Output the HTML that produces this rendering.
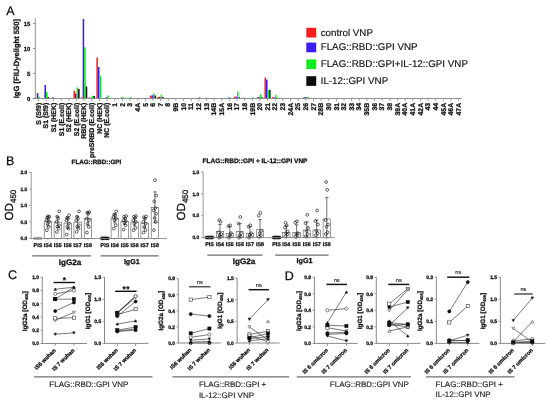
<!DOCTYPE html>
<html lang="en"><head><meta charset="utf-8"><title>Figure</title>
<style>html,body{margin:0;padding:0;background:#fff;}body{width:550px;height:403px;overflow:hidden;}svg{display:block;font-family:"Liberation Sans",sans-serif;text-rendering:geometricPrecision;}.b{font-weight:bold;stroke:#111;stroke-width:.28px;stroke-linejoin:round}</style></head><body>
<svg width="550" height="403" viewBox="0 0 550 403">
<rect width="550" height="403" fill="#fff"/>
<defs><filter id="soft" x="0" y="0" width="550" height="403" filterUnits="userSpaceOnUse"><feGaussianBlur stdDeviation="0.35"/></filter></defs>
<g filter="url(#soft)">
<text x="6.2" y="15.2" font-size="12.5" text-anchor="start" fill="#111" stroke="#111" stroke-width="0.25">A</text>
<text x="6" y="165" font-size="12.5" text-anchor="start" fill="#111" stroke="#111" stroke-width="0.25">B</text>
<text x="8" y="279.3" font-size="12.5" text-anchor="start" fill="#111" stroke="#111" stroke-width="0.25">C</text>
<text x="284.8" y="279.6" font-size="12.5" text-anchor="start" fill="#111" stroke="#111" stroke-width="0.25">D</text>
<g id="panelA">
<rect x="35.25" y="98.25" width="1.55" height="0.25" fill="#ff2020"/>
<rect x="36.8" y="93.1" width="1.55" height="5.4" fill="#3a1aff"/>
<rect x="38.35" y="96.75" width="1.55" height="1.75" fill="#10ee20"/>
<rect x="39.9" y="98.2" width="1.55" height="0.3" fill="#151515"/>
<rect x="42.89" y="98.2" width="1.55" height="0.3" fill="#ff2020"/>
<rect x="44.44" y="85" width="1.55" height="13.5" fill="#3a1aff"/>
<rect x="45.99" y="92" width="1.55" height="6.5" fill="#10ee20"/>
<rect x="47.54" y="97" width="1.55" height="1.5" fill="#151515"/>
<rect x="50.53" y="98.35" width="1.55" height="0.15" fill="#ff2020"/>
<rect x="52.08" y="97.25" width="1.55" height="1.25" fill="#3a1aff"/>
<rect x="53.63" y="98.2" width="1.55" height="0.3" fill="#10ee20"/>
<rect x="59.72" y="98.35" width="1.55" height="0.15" fill="#3a1aff"/>
<rect x="61.27" y="98.35" width="1.55" height="0.15" fill="#10ee20"/>
<rect x="67.36" y="98.35" width="1.55" height="0.15" fill="#3a1aff"/>
<rect x="68.91" y="98.3" width="1.55" height="0.2" fill="#10ee20"/>
<rect x="73.45" y="90.75" width="1.55" height="7.75" fill="#ff2020"/>
<rect x="75" y="93.5" width="1.55" height="5" fill="#3a1aff"/>
<rect x="76.55" y="87.5" width="1.55" height="11" fill="#10ee20"/>
<rect x="78.1" y="89" width="1.55" height="9.5" fill="#151515"/>
<rect x="81.09" y="97.5" width="1.55" height="1" fill="#ff2020"/>
<rect x="82.64" y="19" width="1.55" height="79.5" fill="#3a1aff"/>
<rect x="84.19" y="47.25" width="1.55" height="51.25" fill="#10ee20"/>
<rect x="85.74" y="86.5" width="1.55" height="12" fill="#151515"/>
<rect x="88.73" y="97.5" width="1.55" height="1" fill="#ff2020"/>
<rect x="90.28" y="97.7" width="1.55" height="0.8" fill="#3a1aff"/>
<rect x="91.83" y="95.75" width="1.55" height="2.75" fill="#10ee20"/>
<rect x="93.38" y="96" width="1.55" height="2.5" fill="#151515"/>
<rect x="96.37" y="57.5" width="1.55" height="41" fill="#ff2020"/>
<rect x="97.92" y="67" width="1.55" height="31.5" fill="#3a1aff"/>
<rect x="99.47" y="76" width="1.55" height="22.5" fill="#10ee20"/>
<rect x="101.02" y="98.1" width="1.55" height="0.4" fill="#151515"/>
<rect x="104.01" y="98" width="1.55" height="0.5" fill="#ff2020"/>
<rect x="105.56" y="97.25" width="1.55" height="1.25" fill="#3a1aff"/>
<rect x="107.11" y="95.5" width="1.55" height="3" fill="#10ee20"/>
<rect x="108.66" y="98.25" width="1.55" height="0.25" fill="#151515"/>
<rect x="113.2" y="98.35" width="1.55" height="0.15" fill="#3a1aff"/>
<rect x="114.75" y="98.3" width="1.55" height="0.2" fill="#10ee20"/>
<rect x="119.29" y="98" width="1.55" height="0.5" fill="#ff2020"/>
<rect x="120.84" y="97.5" width="1.55" height="1" fill="#3a1aff"/>
<rect x="122.39" y="96.85" width="1.55" height="1.65" fill="#10ee20"/>
<rect x="123.94" y="98.2" width="1.55" height="0.3" fill="#151515"/>
<rect x="126.93" y="98" width="1.55" height="0.5" fill="#ff2020"/>
<rect x="128.48" y="98" width="1.55" height="0.5" fill="#3a1aff"/>
<rect x="130.03" y="97" width="1.55" height="1.5" fill="#10ee20"/>
<rect x="131.58" y="98.25" width="1.55" height="0.25" fill="#151515"/>
<rect x="136.12" y="98.35" width="1.55" height="0.15" fill="#3a1aff"/>
<rect x="137.67" y="98.3" width="1.55" height="0.2" fill="#10ee20"/>
<rect x="145.31" y="98.3" width="1.55" height="0.2" fill="#10ee20"/>
<rect x="149.85" y="95.6" width="1.55" height="2.9" fill="#ff2020"/>
<rect x="151.4" y="95.3" width="1.55" height="3.2" fill="#3a1aff"/>
<rect x="152.95" y="93.3" width="1.55" height="5.2" fill="#10ee20"/>
<rect x="154.5" y="95.5" width="1.55" height="3" fill="#151515"/>
<rect x="157.49" y="97" width="1.55" height="1.5" fill="#ff2020"/>
<rect x="159.04" y="96.8" width="1.55" height="1.7" fill="#3a1aff"/>
<rect x="160.59" y="94.5" width="1.55" height="4" fill="#10ee20"/>
<rect x="162.14" y="97" width="1.55" height="1.5" fill="#151515"/>
<rect x="165.13" y="98.35" width="1.55" height="0.15" fill="#ff2020"/>
<rect x="166.68" y="97.9" width="1.55" height="0.6" fill="#3a1aff"/>
<rect x="168.23" y="98.2" width="1.55" height="0.3" fill="#10ee20"/>
<rect x="174.32" y="98.35" width="1.55" height="0.15" fill="#3a1aff"/>
<rect x="175.87" y="98.2" width="1.55" height="0.3" fill="#10ee20"/>
<rect x="181.96" y="98.35" width="1.55" height="0.15" fill="#3a1aff"/>
<rect x="183.51" y="98.2" width="1.55" height="0.3" fill="#10ee20"/>
<rect x="189.6" y="98.35" width="1.55" height="0.15" fill="#3a1aff"/>
<rect x="191.15" y="98.2" width="1.55" height="0.3" fill="#10ee20"/>
<rect x="195.69" y="97.9" width="1.55" height="0.6" fill="#ff2020"/>
<rect x="197.24" y="98" width="1.55" height="0.5" fill="#3a1aff"/>
<rect x="198.79" y="96.9" width="1.55" height="1.6" fill="#10ee20"/>
<rect x="200.34" y="98.3" width="1.55" height="0.2" fill="#151515"/>
<rect x="204.88" y="98.35" width="1.55" height="0.15" fill="#3a1aff"/>
<rect x="206.43" y="98.2" width="1.55" height="0.3" fill="#10ee20"/>
<rect x="212.52" y="98.35" width="1.55" height="0.15" fill="#3a1aff"/>
<rect x="214.07" y="98.2" width="1.55" height="0.3" fill="#10ee20"/>
<rect x="218.61" y="98" width="1.55" height="0.5" fill="#ff2020"/>
<rect x="220.16" y="98" width="1.55" height="0.5" fill="#3a1aff"/>
<rect x="221.71" y="98" width="1.55" height="0.5" fill="#10ee20"/>
<rect x="223.26" y="98.35" width="1.55" height="0.15" fill="#151515"/>
<rect x="226.25" y="98" width="1.55" height="0.5" fill="#ff2020"/>
<rect x="227.8" y="97.5" width="1.55" height="1" fill="#3a1aff"/>
<rect x="229.35" y="97.3" width="1.55" height="1.2" fill="#10ee20"/>
<rect x="230.9" y="98.3" width="1.55" height="0.2" fill="#151515"/>
<rect x="233.89" y="96.6" width="1.55" height="1.9" fill="#ff2020"/>
<rect x="235.44" y="96.8" width="1.55" height="1.7" fill="#3a1aff"/>
<rect x="236.99" y="91.5" width="1.55" height="7" fill="#10ee20"/>
<rect x="238.54" y="97.25" width="1.55" height="1.25" fill="#151515"/>
<rect x="241.53" y="98.3" width="1.55" height="0.2" fill="#ff2020"/>
<rect x="243.08" y="97.75" width="1.55" height="0.75" fill="#3a1aff"/>
<rect x="244.63" y="98.1" width="1.55" height="0.4" fill="#10ee20"/>
<rect x="249.17" y="98.3" width="1.55" height="0.2" fill="#ff2020"/>
<rect x="250.72" y="98.1" width="1.55" height="0.4" fill="#3a1aff"/>
<rect x="252.27" y="97.5" width="1.55" height="1" fill="#10ee20"/>
<rect x="256.81" y="97.25" width="1.55" height="1.25" fill="#ff2020"/>
<rect x="258.36" y="96.9" width="1.55" height="1.6" fill="#3a1aff"/>
<rect x="259.91" y="94.3" width="1.55" height="4.2" fill="#10ee20"/>
<rect x="261.46" y="97.4" width="1.55" height="1.1" fill="#151515"/>
<rect x="264.45" y="77.5" width="1.55" height="21" fill="#ff2020"/>
<rect x="266" y="79.5" width="1.55" height="19" fill="#3a1aff"/>
<rect x="267.55" y="89.9" width="1.55" height="8.6" fill="#10ee20"/>
<rect x="269.1" y="89.9" width="1.55" height="8.6" fill="#151515"/>
<rect x="272.09" y="97.1" width="1.55" height="1.4" fill="#ff2020"/>
<rect x="273.64" y="97.4" width="1.55" height="1.1" fill="#3a1aff"/>
<rect x="275.19" y="95.1" width="1.55" height="3.4" fill="#10ee20"/>
<rect x="276.74" y="97.9" width="1.55" height="0.6" fill="#151515"/>
<rect x="279.73" y="98.35" width="1.55" height="0.15" fill="#ff2020"/>
<rect x="281.28" y="97.9" width="1.55" height="0.6" fill="#3a1aff"/>
<rect x="282.83" y="98.2" width="1.55" height="0.3" fill="#10ee20"/>
<rect x="288.92" y="98.35" width="1.55" height="0.15" fill="#3a1aff"/>
<rect x="290.47" y="98.2" width="1.55" height="0.3" fill="#10ee20"/>
<rect x="296.56" y="98.35" width="1.55" height="0.15" fill="#3a1aff"/>
<rect x="298.11" y="98.2" width="1.55" height="0.3" fill="#10ee20"/>
<rect x="302.65" y="97.5" width="1.55" height="1" fill="#ff2020"/>
<rect x="304.2" y="97" width="1.55" height="1.5" fill="#3a1aff"/>
<rect x="305.75" y="96.9" width="1.55" height="1.6" fill="#10ee20"/>
<rect x="307.3" y="97.5" width="1.55" height="1" fill="#151515"/>
<rect x="311.84" y="98.35" width="1.55" height="0.15" fill="#3a1aff"/>
<rect x="313.39" y="98.2" width="1.55" height="0.3" fill="#10ee20"/>
<rect x="319.48" y="98.35" width="1.55" height="0.15" fill="#3a1aff"/>
<rect x="321.03" y="98.2" width="1.55" height="0.3" fill="#10ee20"/>
<rect x="327.12" y="98.35" width="1.55" height="0.15" fill="#3a1aff"/>
<rect x="328.67" y="98.2" width="1.55" height="0.3" fill="#10ee20"/>
<rect x="334.76" y="98.35" width="1.55" height="0.15" fill="#3a1aff"/>
<rect x="336.31" y="98.2" width="1.55" height="0.3" fill="#10ee20"/>
<rect x="342.4" y="98.35" width="1.55" height="0.15" fill="#3a1aff"/>
<rect x="343.95" y="98.2" width="1.55" height="0.3" fill="#10ee20"/>
<rect x="350.04" y="98.35" width="1.55" height="0.15" fill="#3a1aff"/>
<rect x="351.59" y="98.2" width="1.55" height="0.3" fill="#10ee20"/>
<rect x="357.68" y="98.35" width="1.55" height="0.15" fill="#3a1aff"/>
<rect x="359.23" y="98.2" width="1.55" height="0.3" fill="#10ee20"/>
<rect x="365.32" y="98.35" width="1.55" height="0.15" fill="#3a1aff"/>
<rect x="366.87" y="98.2" width="1.55" height="0.3" fill="#10ee20"/>
<rect x="372.96" y="98.35" width="1.55" height="0.15" fill="#3a1aff"/>
<rect x="374.51" y="98.2" width="1.55" height="0.3" fill="#10ee20"/>
<rect x="380.6" y="98.35" width="1.55" height="0.15" fill="#3a1aff"/>
<rect x="382.15" y="98.2" width="1.55" height="0.3" fill="#10ee20"/>
<rect x="388.24" y="98.35" width="1.55" height="0.15" fill="#3a1aff"/>
<rect x="389.79" y="98.2" width="1.55" height="0.3" fill="#10ee20"/>
<rect x="395.88" y="98.35" width="1.55" height="0.15" fill="#3a1aff"/>
<rect x="397.43" y="98.2" width="1.55" height="0.3" fill="#10ee20"/>
<rect x="403.52" y="98.35" width="1.55" height="0.15" fill="#3a1aff"/>
<rect x="405.07" y="98.2" width="1.55" height="0.3" fill="#10ee20"/>
<rect x="411.16" y="98.35" width="1.55" height="0.15" fill="#3a1aff"/>
<rect x="412.71" y="98.2" width="1.55" height="0.3" fill="#10ee20"/>
<rect x="418.8" y="98.35" width="1.55" height="0.15" fill="#3a1aff"/>
<rect x="420.35" y="98.2" width="1.55" height="0.3" fill="#10ee20"/>
<rect x="426.44" y="98.35" width="1.55" height="0.15" fill="#3a1aff"/>
<rect x="427.99" y="98.2" width="1.55" height="0.3" fill="#10ee20"/>
<rect x="434.08" y="98.35" width="1.55" height="0.15" fill="#3a1aff"/>
<rect x="435.63" y="98.2" width="1.55" height="0.3" fill="#10ee20"/>
<rect x="441.72" y="98.35" width="1.55" height="0.15" fill="#3a1aff"/>
<rect x="443.27" y="98.2" width="1.55" height="0.3" fill="#10ee20"/>
<rect x="449.36" y="98.35" width="1.55" height="0.15" fill="#3a1aff"/>
<rect x="450.91" y="98.2" width="1.55" height="0.3" fill="#10ee20"/>
<rect x="457" y="98.35" width="1.55" height="0.15" fill="#3a1aff"/>
<rect x="458.55" y="98.2" width="1.55" height="0.3" fill="#10ee20"/>
<line x1="35.3" y1="17.9" x2="35.3" y2="98.9" stroke="#8c8c8c" stroke-width="0.95"/>
<line x1="32.6" y1="98.5" x2="462" y2="98.5" stroke="#8c8c8c" stroke-width="0.95"/>
<line x1="33" y1="98.5" x2="35.3" y2="98.5" stroke="#7d7d7d" stroke-width="0.8"/>
<text x="30.2" y="100.6" font-size="5.9" class="b" text-anchor="end" fill="#111">0</text>
<line x1="33" y1="73.5" x2="35.3" y2="73.5" stroke="#7d7d7d" stroke-width="0.8"/>
<text x="30.2" y="75.6" font-size="5.9" class="b" text-anchor="end" fill="#111">5</text>
<line x1="33" y1="48.5" x2="35.3" y2="48.5" stroke="#7d7d7d" stroke-width="0.8"/>
<text x="30.2" y="50.6" font-size="5.9" class="b" text-anchor="end" fill="#111">10</text>
<line x1="33" y1="23.5" x2="35.3" y2="23.5" stroke="#7d7d7d" stroke-width="0.8"/>
<text x="30.2" y="25.6" font-size="5.9" class="b" text-anchor="end" fill="#111">15</text>
<line x1="38.4" y1="98.5" x2="38.4" y2="101.1" stroke="#7d7d7d" stroke-width="0.7"/>
<text x="40.6" y="102.8" font-size="6.9" class="b" text-anchor="end" fill="#111" transform="rotate(-90 40.6 102.8)">S (Sf9)</text>
<line x1="46.04" y1="98.5" x2="46.04" y2="101.1" stroke="#7d7d7d" stroke-width="0.7"/>
<text x="48.24" y="102.8" font-size="6.9" class="b" text-anchor="end" fill="#111" transform="rotate(-90 48.24 102.8)">S1 (Sf9)</text>
<line x1="53.68" y1="98.5" x2="53.68" y2="101.1" stroke="#7d7d7d" stroke-width="0.7"/>
<text x="55.88" y="102.8" font-size="6.9" class="b" text-anchor="end" fill="#111" transform="rotate(-90 55.88 102.8)">S1 (HEK)</text>
<line x1="61.32" y1="98.5" x2="61.32" y2="101.1" stroke="#7d7d7d" stroke-width="0.7"/>
<text x="63.52" y="102.8" font-size="6.9" class="b" text-anchor="end" fill="#111" transform="rotate(-90 63.52 102.8)">S1 (E.coli)</text>
<line x1="68.96" y1="98.5" x2="68.96" y2="101.1" stroke="#7d7d7d" stroke-width="0.7"/>
<text x="71.16" y="102.8" font-size="6.9" class="b" text-anchor="end" fill="#111" transform="rotate(-90 71.16 102.8)">S2 (HEK)</text>
<line x1="76.6" y1="98.5" x2="76.6" y2="101.1" stroke="#7d7d7d" stroke-width="0.7"/>
<text x="78.8" y="102.8" font-size="6.9" class="b" text-anchor="end" fill="#111" transform="rotate(-90 78.8 102.8)">S2 (E.coli)</text>
<line x1="84.24" y1="98.5" x2="84.24" y2="101.1" stroke="#7d7d7d" stroke-width="0.7"/>
<text x="86.44" y="102.8" font-size="6.9" class="b" text-anchor="end" fill="#111" transform="rotate(-90 86.44 102.8)">RBD (HEK)</text>
<line x1="91.88" y1="98.5" x2="91.88" y2="101.1" stroke="#7d7d7d" stroke-width="0.7"/>
<text x="94.08" y="102.8" font-size="6.9" class="b" text-anchor="end" fill="#111" transform="rotate(-90 94.08 102.8)">preSRBD (E.coli)</text>
<line x1="99.52" y1="98.5" x2="99.52" y2="101.1" stroke="#7d7d7d" stroke-width="0.7"/>
<text x="101.72" y="102.8" font-size="6.9" class="b" text-anchor="end" fill="#111" transform="rotate(-90 101.72 102.8)">NC (HEK)</text>
<line x1="107.16" y1="98.5" x2="107.16" y2="101.1" stroke="#7d7d7d" stroke-width="0.7"/>
<text x="109.36" y="102.8" font-size="6.9" class="b" text-anchor="end" fill="#111" transform="rotate(-90 109.36 102.8)">NC (E.coli)</text>
<line x1="114.8" y1="98.5" x2="114.8" y2="101.1" stroke="#7d7d7d" stroke-width="0.7"/>
<text x="117" y="102.8" font-size="6.9" class="b" text-anchor="end" fill="#111" transform="rotate(-90 117 102.8)">1</text>
<line x1="122.44" y1="98.5" x2="122.44" y2="101.1" stroke="#7d7d7d" stroke-width="0.7"/>
<text x="124.64" y="102.8" font-size="6.9" class="b" text-anchor="end" fill="#111" transform="rotate(-90 124.64 102.8)">2</text>
<line x1="130.08" y1="98.5" x2="130.08" y2="101.1" stroke="#7d7d7d" stroke-width="0.7"/>
<text x="132.28" y="102.8" font-size="6.9" class="b" text-anchor="end" fill="#111" transform="rotate(-90 132.28 102.8)">3</text>
<line x1="137.72" y1="98.5" x2="137.72" y2="101.1" stroke="#7d7d7d" stroke-width="0.7"/>
<text x="139.92" y="102.8" font-size="6.9" class="b" text-anchor="end" fill="#111" transform="rotate(-90 139.92 102.8)">4A</text>
<line x1="145.36" y1="98.5" x2="145.36" y2="101.1" stroke="#7d7d7d" stroke-width="0.7"/>
<text x="147.56" y="102.8" font-size="6.9" class="b" text-anchor="end" fill="#111" transform="rotate(-90 147.56 102.8)">5</text>
<line x1="153" y1="98.5" x2="153" y2="101.1" stroke="#7d7d7d" stroke-width="0.7"/>
<text x="155.2" y="102.8" font-size="6.9" class="b" text-anchor="end" fill="#111" transform="rotate(-90 155.2 102.8)">6</text>
<line x1="160.64" y1="98.5" x2="160.64" y2="101.1" stroke="#7d7d7d" stroke-width="0.7"/>
<text x="162.84" y="102.8" font-size="6.9" class="b" text-anchor="end" fill="#111" transform="rotate(-90 162.84 102.8)">7</text>
<line x1="168.28" y1="98.5" x2="168.28" y2="101.1" stroke="#7d7d7d" stroke-width="0.7"/>
<text x="170.48" y="102.8" font-size="6.9" class="b" text-anchor="end" fill="#111" transform="rotate(-90 170.48 102.8)">8</text>
<line x1="175.92" y1="98.5" x2="175.92" y2="101.1" stroke="#7d7d7d" stroke-width="0.7"/>
<text x="178.12" y="102.8" font-size="6.9" class="b" text-anchor="end" fill="#111" transform="rotate(-90 178.12 102.8)">9B</text>
<line x1="183.56" y1="98.5" x2="183.56" y2="101.1" stroke="#7d7d7d" stroke-width="0.7"/>
<text x="185.76" y="102.8" font-size="6.9" class="b" text-anchor="end" fill="#111" transform="rotate(-90 185.76 102.8)">10</text>
<line x1="191.2" y1="98.5" x2="191.2" y2="101.1" stroke="#7d7d7d" stroke-width="0.7"/>
<text x="193.4" y="102.8" font-size="6.9" class="b" text-anchor="end" fill="#111" transform="rotate(-90 193.4 102.8)">11</text>
<line x1="198.84" y1="98.5" x2="198.84" y2="101.1" stroke="#7d7d7d" stroke-width="0.7"/>
<text x="201.04" y="102.8" font-size="6.9" class="b" text-anchor="end" fill="#111" transform="rotate(-90 201.04 102.8)">12</text>
<line x1="206.48" y1="98.5" x2="206.48" y2="101.1" stroke="#7d7d7d" stroke-width="0.7"/>
<text x="208.68" y="102.8" font-size="6.9" class="b" text-anchor="end" fill="#111" transform="rotate(-90 208.68 102.8)">13</text>
<line x1="214.12" y1="98.5" x2="214.12" y2="101.1" stroke="#7d7d7d" stroke-width="0.7"/>
<text x="216.32" y="102.8" font-size="6.9" class="b" text-anchor="end" fill="#111" transform="rotate(-90 216.32 102.8)">14B</text>
<line x1="221.76" y1="98.5" x2="221.76" y2="101.1" stroke="#7d7d7d" stroke-width="0.7"/>
<text x="223.96" y="102.8" font-size="6.9" class="b" text-anchor="end" fill="#111" transform="rotate(-90 223.96 102.8)">15A</text>
<line x1="229.4" y1="98.5" x2="229.4" y2="101.1" stroke="#7d7d7d" stroke-width="0.7"/>
<text x="231.6" y="102.8" font-size="6.9" class="b" text-anchor="end" fill="#111" transform="rotate(-90 231.6 102.8)">16</text>
<line x1="237.04" y1="98.5" x2="237.04" y2="101.1" stroke="#7d7d7d" stroke-width="0.7"/>
<text x="239.24" y="102.8" font-size="6.9" class="b" text-anchor="end" fill="#111" transform="rotate(-90 239.24 102.8)">17</text>
<line x1="244.68" y1="98.5" x2="244.68" y2="101.1" stroke="#7d7d7d" stroke-width="0.7"/>
<text x="246.88" y="102.8" font-size="6.9" class="b" text-anchor="end" fill="#111" transform="rotate(-90 246.88 102.8)">18</text>
<line x1="252.32" y1="98.5" x2="252.32" y2="101.1" stroke="#7d7d7d" stroke-width="0.7"/>
<text x="254.52" y="102.8" font-size="6.9" class="b" text-anchor="end" fill="#111" transform="rotate(-90 254.52 102.8)">19B</text>
<line x1="259.96" y1="98.5" x2="259.96" y2="101.1" stroke="#7d7d7d" stroke-width="0.7"/>
<text x="262.16" y="102.8" font-size="6.9" class="b" text-anchor="end" fill="#111" transform="rotate(-90 262.16 102.8)">20</text>
<line x1="267.6" y1="98.5" x2="267.6" y2="101.1" stroke="#7d7d7d" stroke-width="0.7"/>
<text x="269.8" y="102.8" font-size="6.9" class="b" text-anchor="end" fill="#111" transform="rotate(-90 269.8 102.8)">21</text>
<line x1="275.24" y1="98.5" x2="275.24" y2="101.1" stroke="#7d7d7d" stroke-width="0.7"/>
<text x="277.44" y="102.8" font-size="6.9" class="b" text-anchor="end" fill="#111" transform="rotate(-90 277.44 102.8)">22</text>
<line x1="282.88" y1="98.5" x2="282.88" y2="101.1" stroke="#7d7d7d" stroke-width="0.7"/>
<text x="285.08" y="102.8" font-size="6.9" class="b" text-anchor="end" fill="#111" transform="rotate(-90 285.08 102.8)">23</text>
<line x1="290.52" y1="98.5" x2="290.52" y2="101.1" stroke="#7d7d7d" stroke-width="0.7"/>
<text x="292.72" y="102.8" font-size="6.9" class="b" text-anchor="end" fill="#111" transform="rotate(-90 292.72 102.8)">24A</text>
<line x1="298.16" y1="98.5" x2="298.16" y2="101.1" stroke="#7d7d7d" stroke-width="0.7"/>
<text x="300.36" y="102.8" font-size="6.9" class="b" text-anchor="end" fill="#111" transform="rotate(-90 300.36 102.8)">25</text>
<line x1="305.8" y1="98.5" x2="305.8" y2="101.1" stroke="#7d7d7d" stroke-width="0.7"/>
<text x="308" y="102.8" font-size="6.9" class="b" text-anchor="end" fill="#111" transform="rotate(-90 308 102.8)">26</text>
<line x1="313.44" y1="98.5" x2="313.44" y2="101.1" stroke="#7d7d7d" stroke-width="0.7"/>
<text x="315.64" y="102.8" font-size="6.9" class="b" text-anchor="end" fill="#111" transform="rotate(-90 315.64 102.8)">27</text>
<line x1="321.08" y1="98.5" x2="321.08" y2="101.1" stroke="#7d7d7d" stroke-width="0.7"/>
<text x="323.28" y="102.8" font-size="6.9" class="b" text-anchor="end" fill="#111" transform="rotate(-90 323.28 102.8)">28B</text>
<line x1="328.72" y1="98.5" x2="328.72" y2="101.1" stroke="#7d7d7d" stroke-width="0.7"/>
<text x="330.92" y="102.8" font-size="6.9" class="b" text-anchor="end" fill="#111" transform="rotate(-90 330.92 102.8)">30</text>
<line x1="336.36" y1="98.5" x2="336.36" y2="101.1" stroke="#7d7d7d" stroke-width="0.7"/>
<text x="338.56" y="102.8" font-size="6.9" class="b" text-anchor="end" fill="#111" transform="rotate(-90 338.56 102.8)">31</text>
<line x1="344" y1="98.5" x2="344" y2="101.1" stroke="#7d7d7d" stroke-width="0.7"/>
<text x="346.2" y="102.8" font-size="6.9" class="b" text-anchor="end" fill="#111" transform="rotate(-90 346.2 102.8)">32</text>
<line x1="351.64" y1="98.5" x2="351.64" y2="101.1" stroke="#7d7d7d" stroke-width="0.7"/>
<text x="353.84" y="102.8" font-size="6.9" class="b" text-anchor="end" fill="#111" transform="rotate(-90 353.84 102.8)">33</text>
<line x1="359.28" y1="98.5" x2="359.28" y2="101.1" stroke="#7d7d7d" stroke-width="0.7"/>
<text x="361.48" y="102.8" font-size="6.9" class="b" text-anchor="end" fill="#111" transform="rotate(-90 361.48 102.8)">34</text>
<line x1="366.92" y1="98.5" x2="366.92" y2="101.1" stroke="#7d7d7d" stroke-width="0.7"/>
<text x="369.12" y="102.8" font-size="6.9" class="b" text-anchor="end" fill="#111" transform="rotate(-90 369.12 102.8)">35B</text>
<line x1="374.56" y1="98.5" x2="374.56" y2="101.1" stroke="#7d7d7d" stroke-width="0.7"/>
<text x="376.76" y="102.8" font-size="6.9" class="b" text-anchor="end" fill="#111" transform="rotate(-90 376.76 102.8)">36</text>
<line x1="382.2" y1="98.5" x2="382.2" y2="101.1" stroke="#7d7d7d" stroke-width="0.7"/>
<text x="384.4" y="102.8" font-size="6.9" class="b" text-anchor="end" fill="#111" transform="rotate(-90 384.4 102.8)">37</text>
<line x1="389.84" y1="98.5" x2="389.84" y2="101.1" stroke="#7d7d7d" stroke-width="0.7"/>
<text x="392.04" y="102.8" font-size="6.9" class="b" text-anchor="end" fill="#111" transform="rotate(-90 392.04 102.8)">38</text>
<line x1="397.48" y1="98.5" x2="397.48" y2="101.1" stroke="#7d7d7d" stroke-width="0.7"/>
<text x="399.68" y="102.8" font-size="6.9" class="b" text-anchor="end" fill="#111" transform="rotate(-90 399.68 102.8)">39A</text>
<line x1="405.12" y1="98.5" x2="405.12" y2="101.1" stroke="#7d7d7d" stroke-width="0.7"/>
<text x="407.32" y="102.8" font-size="6.9" class="b" text-anchor="end" fill="#111" transform="rotate(-90 407.32 102.8)">40A</text>
<line x1="412.76" y1="98.5" x2="412.76" y2="101.1" stroke="#7d7d7d" stroke-width="0.7"/>
<text x="414.96" y="102.8" font-size="6.9" class="b" text-anchor="end" fill="#111" transform="rotate(-90 414.96 102.8)">41A</text>
<line x1="420.4" y1="98.5" x2="420.4" y2="101.1" stroke="#7d7d7d" stroke-width="0.7"/>
<text x="422.6" y="102.8" font-size="6.9" class="b" text-anchor="end" fill="#111" transform="rotate(-90 422.6 102.8)">42A</text>
<line x1="428.04" y1="98.5" x2="428.04" y2="101.1" stroke="#7d7d7d" stroke-width="0.7"/>
<text x="430.24" y="102.8" font-size="6.9" class="b" text-anchor="end" fill="#111" transform="rotate(-90 430.24 102.8)">43</text>
<line x1="435.68" y1="98.5" x2="435.68" y2="101.1" stroke="#7d7d7d" stroke-width="0.7"/>
<text x="437.88" y="102.8" font-size="6.9" class="b" text-anchor="end" fill="#111" transform="rotate(-90 437.88 102.8)">44</text>
<line x1="443.32" y1="98.5" x2="443.32" y2="101.1" stroke="#7d7d7d" stroke-width="0.7"/>
<text x="445.52" y="102.8" font-size="6.9" class="b" text-anchor="end" fill="#111" transform="rotate(-90 445.52 102.8)">45A</text>
<line x1="450.96" y1="98.5" x2="450.96" y2="101.1" stroke="#7d7d7d" stroke-width="0.7"/>
<text x="453.16" y="102.8" font-size="6.9" class="b" text-anchor="end" fill="#111" transform="rotate(-90 453.16 102.8)">46A</text>
<line x1="458.6" y1="98.5" x2="458.6" y2="101.1" stroke="#7d7d7d" stroke-width="0.7"/>
<text x="460.8" y="102.8" font-size="6.9" class="b" text-anchor="end" fill="#111" transform="rotate(-90 460.8 102.8)">47A</text>
<text x="18.8" y="58.6" font-size="7.6" class="b" text-anchor="middle" fill="#111" transform="rotate(-90 18.8 58.6)">IgG [FIU-Dyelight 550]</text>
<rect x="306.3" y="27.8" width="9.9" height="9.7" fill="#ff1a1a"/>
<text x="320.7" y="35.6" font-size="9.8" text-anchor="start" fill="#111" stroke="#111" stroke-width="0.15">control VNP</text>
<rect x="306.3" y="42.6" width="9.9" height="9.7" fill="#3a1aff"/>
<text x="320.7" y="50.4" font-size="9.8" text-anchor="start" fill="#111" stroke="#111" stroke-width="0.15">FLAG::RBD::GPI VNP</text>
<rect x="306.3" y="59.4" width="9.9" height="9.7" fill="#10ee20"/>
<text x="320.7" y="67.3" font-size="9.8" text-anchor="start" fill="#111" stroke="#111" stroke-width="0.15">FLAG::RBD::GPI+IL-12::GPI VNP</text>
<rect x="306.3" y="76.2" width="9.9" height="9.7" fill="#101010"/>
<text x="320.7" y="83.9" font-size="9.8" text-anchor="start" fill="#111" stroke="#111" stroke-width="0.15">IL-12::GPI VNP</text>
</g>
<g id="panelBL">
<circle cx="34.7" cy="238.4" r="1.1" fill="none" stroke="#444" stroke-width="0.5"/>
<circle cx="36.83" cy="238.4" r="1.1" fill="none" stroke="#444" stroke-width="0.5"/>
<circle cx="38.97" cy="238.4" r="1.1" fill="none" stroke="#444" stroke-width="0.5"/>
<circle cx="41.1" cy="238.4" r="1.1" fill="none" stroke="#444" stroke-width="0.5"/>
<rect x="44.2" y="221.29" width="7.4" height="17.21" fill="#fff" stroke="#555" stroke-width="0.6"/>
<line x1="47.9" y1="216.65" x2="47.9" y2="225.92" stroke="#333" stroke-width="0.7"/>
<line x1="46.2" y1="216.65" x2="49.6" y2="216.65" stroke="#333" stroke-width="0.7"/>
<line x1="46.2" y1="225.92" x2="49.6" y2="225.92" stroke="#333" stroke-width="0.7"/>
<circle cx="46.9" cy="230.22" r="1.4" fill="none" stroke="#222" stroke-width="0.7"/>
<circle cx="48.8" cy="226.91" r="1.4" fill="none" stroke="#222" stroke-width="0.7"/>
<circle cx="47.6" cy="223.6" r="1.4" fill="none" stroke="#222" stroke-width="0.7"/>
<circle cx="49.1" cy="221.95" r="1.4" fill="none" stroke="#222" stroke-width="0.7"/>
<circle cx="46.6" cy="219.96" r="1.4" fill="none" stroke="#222" stroke-width="0.7"/>
<circle cx="48.3" cy="218.64" r="1.4" fill="none" stroke="#222" stroke-width="0.7"/>
<circle cx="47.2" cy="217.65" r="1.4" fill="none" stroke="#222" stroke-width="0.7"/>
<circle cx="49.3" cy="216.65" r="1.4" fill="none" stroke="#222" stroke-width="0.7"/>
<circle cx="47.9" cy="216.32" r="1.4" fill="none" stroke="#222" stroke-width="0.7"/>
<rect x="54.1" y="222.12" width="7.4" height="16.38" fill="#fff" stroke="#555" stroke-width="0.6"/>
<line x1="57.8" y1="216.65" x2="57.8" y2="227.58" stroke="#333" stroke-width="0.7"/>
<line x1="56.1" y1="216.65" x2="59.5" y2="216.65" stroke="#333" stroke-width="0.7"/>
<line x1="56.1" y1="227.58" x2="59.5" y2="227.58" stroke="#333" stroke-width="0.7"/>
<circle cx="56.8" cy="231.88" r="1.4" fill="none" stroke="#222" stroke-width="0.7"/>
<circle cx="58.7" cy="228.57" r="1.4" fill="none" stroke="#222" stroke-width="0.7"/>
<circle cx="57.5" cy="226.58" r="1.4" fill="none" stroke="#222" stroke-width="0.7"/>
<circle cx="59" cy="225.26" r="1.4" fill="none" stroke="#222" stroke-width="0.7"/>
<circle cx="56.5" cy="221.95" r="1.4" fill="none" stroke="#222" stroke-width="0.7"/>
<circle cx="58.2" cy="218.64" r="1.4" fill="none" stroke="#222" stroke-width="0.7"/>
<circle cx="57.1" cy="216.65" r="1.4" fill="none" stroke="#222" stroke-width="0.7"/>
<circle cx="59.2" cy="211.36" r="1.4" fill="none" stroke="#222" stroke-width="0.7"/>
<rect x="64" y="223.11" width="7.4" height="15.39" fill="#fff" stroke="#555" stroke-width="0.6"/>
<line x1="67.7" y1="217.65" x2="67.7" y2="228.57" stroke="#333" stroke-width="0.7"/>
<line x1="66" y1="217.65" x2="69.4" y2="217.65" stroke="#333" stroke-width="0.7"/>
<line x1="66" y1="228.57" x2="69.4" y2="228.57" stroke="#333" stroke-width="0.7"/>
<circle cx="66.7" cy="234.53" r="1.4" fill="none" stroke="#222" stroke-width="0.7"/>
<circle cx="68.6" cy="228.57" r="1.4" fill="none" stroke="#222" stroke-width="0.7"/>
<circle cx="67.4" cy="226.58" r="1.4" fill="none" stroke="#222" stroke-width="0.7"/>
<circle cx="68.9" cy="223.6" r="1.4" fill="none" stroke="#222" stroke-width="0.7"/>
<circle cx="66.4" cy="220.29" r="1.4" fill="none" stroke="#222" stroke-width="0.7"/>
<circle cx="68.1" cy="218.64" r="1.4" fill="none" stroke="#222" stroke-width="0.7"/>
<circle cx="67" cy="217.65" r="1.4" fill="none" stroke="#222" stroke-width="0.7"/>
<circle cx="69.1" cy="215.33" r="1.4" fill="none" stroke="#222" stroke-width="0.7"/>
<rect x="73.9" y="222.12" width="7.4" height="16.38" fill="#fff" stroke="#555" stroke-width="0.6"/>
<line x1="77.6" y1="216.32" x2="77.6" y2="227.91" stroke="#333" stroke-width="0.7"/>
<line x1="75.9" y1="216.32" x2="79.3" y2="216.32" stroke="#333" stroke-width="0.7"/>
<line x1="75.9" y1="227.91" x2="79.3" y2="227.91" stroke="#333" stroke-width="0.7"/>
<circle cx="76.6" cy="231.88" r="1.4" fill="none" stroke="#222" stroke-width="0.7"/>
<circle cx="78.5" cy="228.57" r="1.4" fill="none" stroke="#222" stroke-width="0.7"/>
<circle cx="77.3" cy="226.58" r="1.4" fill="none" stroke="#222" stroke-width="0.7"/>
<circle cx="78.8" cy="225.26" r="1.4" fill="none" stroke="#222" stroke-width="0.7"/>
<circle cx="76.3" cy="220.29" r="1.4" fill="none" stroke="#222" stroke-width="0.7"/>
<circle cx="78" cy="218.64" r="1.4" fill="none" stroke="#222" stroke-width="0.7"/>
<circle cx="76.9" cy="216.65" r="1.4" fill="none" stroke="#222" stroke-width="0.7"/>
<circle cx="79" cy="211.36" r="1.4" fill="none" stroke="#222" stroke-width="0.7"/>
<rect x="84.2" y="218.64" width="7.4" height="19.86" fill="#fff" stroke="#555" stroke-width="0.6"/>
<line x1="87.9" y1="212.02" x2="87.9" y2="225.26" stroke="#333" stroke-width="0.7"/>
<line x1="86.2" y1="212.02" x2="89.6" y2="212.02" stroke="#333" stroke-width="0.7"/>
<line x1="86.2" y1="225.26" x2="89.6" y2="225.26" stroke="#333" stroke-width="0.7"/>
<circle cx="86.9" cy="232.54" r="1.4" fill="none" stroke="#222" stroke-width="0.7"/>
<circle cx="88.8" cy="226.91" r="1.4" fill="none" stroke="#222" stroke-width="0.7"/>
<circle cx="87.6" cy="223.6" r="1.4" fill="none" stroke="#222" stroke-width="0.7"/>
<circle cx="89.1" cy="220.29" r="1.4" fill="none" stroke="#222" stroke-width="0.7"/>
<circle cx="86.6" cy="218.64" r="1.4" fill="none" stroke="#222" stroke-width="0.7"/>
<circle cx="88.3" cy="213.68" r="1.4" fill="none" stroke="#222" stroke-width="0.7"/>
<circle cx="87.2" cy="212.68" r="1.4" fill="none" stroke="#222" stroke-width="0.7"/>
<circle cx="89.3" cy="212.02" r="1.4" fill="none" stroke="#222" stroke-width="0.7"/>
<circle cx="101.7" cy="238.4" r="1.3" fill="none" stroke="#111" stroke-width="1.0"/>
<circle cx="102.77" cy="238.4" r="1.3" fill="none" stroke="#111" stroke-width="1.0"/>
<circle cx="103.83" cy="238.4" r="1.3" fill="none" stroke="#111" stroke-width="1.0"/>
<circle cx="104.9" cy="238.4" r="1.3" fill="none" stroke="#111" stroke-width="1.0"/>
<circle cx="105.97" cy="238.4" r="1.3" fill="none" stroke="#111" stroke-width="1.0"/>
<circle cx="107.03" cy="238.4" r="1.3" fill="none" stroke="#111" stroke-width="1.0"/>
<circle cx="108.1" cy="238.4" r="1.3" fill="none" stroke="#111" stroke-width="1.0"/>
<rect x="111.1" y="218.31" width="7.4" height="20.19" fill="#fff" stroke="#555" stroke-width="0.6"/>
<line x1="114.8" y1="213.68" x2="114.8" y2="222.94" stroke="#333" stroke-width="0.7"/>
<line x1="113.1" y1="213.68" x2="116.5" y2="213.68" stroke="#333" stroke-width="0.7"/>
<line x1="113.1" y1="222.94" x2="116.5" y2="222.94" stroke="#333" stroke-width="0.7"/>
<circle cx="113.8" cy="228.57" r="1.4" fill="none" stroke="#222" stroke-width="0.7"/>
<circle cx="115.7" cy="225.26" r="1.4" fill="none" stroke="#222" stroke-width="0.7"/>
<circle cx="114.5" cy="220.29" r="1.4" fill="none" stroke="#222" stroke-width="0.7"/>
<circle cx="116" cy="218.64" r="1.4" fill="none" stroke="#222" stroke-width="0.7"/>
<circle cx="113.5" cy="216.99" r="1.4" fill="none" stroke="#222" stroke-width="0.7"/>
<circle cx="115.2" cy="215.33" r="1.4" fill="none" stroke="#222" stroke-width="0.7"/>
<circle cx="114.1" cy="214.67" r="1.4" fill="none" stroke="#222" stroke-width="0.7"/>
<circle cx="116.2" cy="211.36" r="1.4" fill="none" stroke="#222" stroke-width="0.7"/>
<rect x="121" y="221.29" width="7.4" height="17.21" fill="#fff" stroke="#555" stroke-width="0.6"/>
<line x1="124.7" y1="217.98" x2="124.7" y2="224.6" stroke="#333" stroke-width="0.7"/>
<line x1="123" y1="217.98" x2="126.4" y2="217.98" stroke="#333" stroke-width="0.7"/>
<line x1="123" y1="224.6" x2="126.4" y2="224.6" stroke="#333" stroke-width="0.7"/>
<circle cx="123.7" cy="229.56" r="1.4" fill="none" stroke="#222" stroke-width="0.7"/>
<circle cx="125.6" cy="225.26" r="1.4" fill="none" stroke="#222" stroke-width="0.7"/>
<circle cx="124.4" cy="222.61" r="1.4" fill="none" stroke="#222" stroke-width="0.7"/>
<circle cx="125.9" cy="221.29" r="1.4" fill="none" stroke="#222" stroke-width="0.7"/>
<circle cx="123.4" cy="220.29" r="1.4" fill="none" stroke="#222" stroke-width="0.7"/>
<circle cx="125.1" cy="218.64" r="1.4" fill="none" stroke="#222" stroke-width="0.7"/>
<circle cx="124" cy="216.65" r="1.4" fill="none" stroke="#222" stroke-width="0.7"/>
<circle cx="126.1" cy="215.99" r="1.4" fill="none" stroke="#222" stroke-width="0.7"/>
<rect x="130.9" y="221.95" width="7.4" height="16.55" fill="#fff" stroke="#555" stroke-width="0.6"/>
<line x1="134.6" y1="217.98" x2="134.6" y2="225.92" stroke="#333" stroke-width="0.7"/>
<line x1="132.9" y1="217.98" x2="136.3" y2="217.98" stroke="#333" stroke-width="0.7"/>
<line x1="132.9" y1="225.92" x2="136.3" y2="225.92" stroke="#333" stroke-width="0.7"/>
<circle cx="133.6" cy="230.22" r="1.4" fill="none" stroke="#222" stroke-width="0.7"/>
<circle cx="135.5" cy="227.91" r="1.4" fill="none" stroke="#222" stroke-width="0.7"/>
<circle cx="134.3" cy="223.6" r="1.4" fill="none" stroke="#222" stroke-width="0.7"/>
<circle cx="135.8" cy="221.95" r="1.4" fill="none" stroke="#222" stroke-width="0.7"/>
<circle cx="133.3" cy="220.29" r="1.4" fill="none" stroke="#222" stroke-width="0.7"/>
<circle cx="135" cy="217.98" r="1.4" fill="none" stroke="#222" stroke-width="0.7"/>
<circle cx="133.9" cy="216.65" r="1.4" fill="none" stroke="#222" stroke-width="0.7"/>
<circle cx="136" cy="215.99" r="1.4" fill="none" stroke="#222" stroke-width="0.7"/>
<rect x="140.9" y="223.11" width="7.4" height="15.39" fill="#fff" stroke="#555" stroke-width="0.6"/>
<line x1="144.6" y1="218.31" x2="144.6" y2="227.91" stroke="#333" stroke-width="0.7"/>
<line x1="142.9" y1="218.31" x2="146.3" y2="218.31" stroke="#333" stroke-width="0.7"/>
<line x1="142.9" y1="227.91" x2="146.3" y2="227.91" stroke="#333" stroke-width="0.7"/>
<circle cx="143.6" cy="232.54" r="1.4" fill="none" stroke="#222" stroke-width="0.7"/>
<circle cx="145.5" cy="230.22" r="1.4" fill="none" stroke="#222" stroke-width="0.7"/>
<circle cx="144.3" cy="226.91" r="1.4" fill="none" stroke="#222" stroke-width="0.7"/>
<circle cx="145.8" cy="223.6" r="1.4" fill="none" stroke="#222" stroke-width="0.7"/>
<circle cx="143.3" cy="221.95" r="1.4" fill="none" stroke="#222" stroke-width="0.7"/>
<circle cx="145" cy="218.64" r="1.4" fill="none" stroke="#222" stroke-width="0.7"/>
<circle cx="143.9" cy="217.32" r="1.4" fill="none" stroke="#222" stroke-width="0.7"/>
<circle cx="146" cy="216.32" r="1.4" fill="none" stroke="#222" stroke-width="0.7"/>
<rect x="151.2" y="207.39" width="7.4" height="31.11" fill="#fff" stroke="#555" stroke-width="0.6"/>
<line x1="154.9" y1="191.83" x2="154.9" y2="222.61" stroke="#333" stroke-width="0.7"/>
<line x1="153.2" y1="191.83" x2="156.6" y2="191.83" stroke="#333" stroke-width="0.7"/>
<line x1="153.2" y1="222.61" x2="156.6" y2="222.61" stroke="#333" stroke-width="0.7"/>
<circle cx="153.9" cy="230.22" r="1.4" fill="none" stroke="#222" stroke-width="0.7"/>
<circle cx="155.8" cy="221.95" r="1.4" fill="none" stroke="#222" stroke-width="0.7"/>
<circle cx="154.6" cy="217.98" r="1.4" fill="none" stroke="#222" stroke-width="0.7"/>
<circle cx="156.1" cy="213.68" r="1.4" fill="none" stroke="#222" stroke-width="0.7"/>
<circle cx="153.6" cy="210.37" r="1.4" fill="none" stroke="#222" stroke-width="0.7"/>
<circle cx="155.3" cy="208.05" r="1.4" fill="none" stroke="#222" stroke-width="0.7"/>
<circle cx="154.2" cy="201.43" r="1.4" fill="none" stroke="#222" stroke-width="0.7"/>
<circle cx="156.3" cy="195.47" r="1.4" fill="none" stroke="#222" stroke-width="0.7"/>
<circle cx="154.9" cy="180.24" r="1.4" fill="none" stroke="#222" stroke-width="0.7"/>
<line x1="31.2" y1="172" x2="31.2" y2="238.8" stroke="#7d7d7d" stroke-width="0.8"/>
<line x1="30.9" y1="238.5" x2="167" y2="238.5" stroke="#7d7d7d" stroke-width="0.8"/>
<line x1="29.2" y1="238.5" x2="31.2" y2="238.5" stroke="#7d7d7d" stroke-width="0.7"/>
<text x="27.3" y="240.25" font-size="4.9" class="b" text-anchor="end" fill="#111">0.0</text>
<line x1="29.2" y1="221.95" x2="31.2" y2="221.95" stroke="#7d7d7d" stroke-width="0.7"/>
<text x="27.3" y="223.7" font-size="4.9" class="b" text-anchor="end" fill="#111">0.5</text>
<line x1="29.2" y1="205.4" x2="31.2" y2="205.4" stroke="#7d7d7d" stroke-width="0.7"/>
<text x="27.3" y="207.15" font-size="4.9" class="b" text-anchor="end" fill="#111">1.0</text>
<line x1="29.2" y1="188.85" x2="31.2" y2="188.85" stroke="#7d7d7d" stroke-width="0.7"/>
<text x="27.3" y="190.6" font-size="4.9" class="b" text-anchor="end" fill="#111">1.5</text>
<line x1="29.2" y1="172.3" x2="31.2" y2="172.3" stroke="#7d7d7d" stroke-width="0.7"/>
<text x="27.3" y="174.05" font-size="4.9" class="b" text-anchor="end" fill="#111">2.0</text>
<line x1="37.9" y1="238.5" x2="37.9" y2="240.3" stroke="#7d7d7d" stroke-width="0.6"/>
<text x="37.9" y="247.2" font-size="5.4" class="b" text-anchor="middle" fill="#111">PIS</text>
<line x1="47.9" y1="238.5" x2="47.9" y2="240.3" stroke="#7d7d7d" stroke-width="0.6"/>
<text x="47.9" y="247.2" font-size="5.4" class="b" text-anchor="middle" fill="#111">IS4</text>
<line x1="57.8" y1="238.5" x2="57.8" y2="240.3" stroke="#7d7d7d" stroke-width="0.6"/>
<text x="57.8" y="247.2" font-size="5.4" class="b" text-anchor="middle" fill="#111">IS5</text>
<line x1="67.7" y1="238.5" x2="67.7" y2="240.3" stroke="#7d7d7d" stroke-width="0.6"/>
<text x="67.7" y="247.2" font-size="5.4" class="b" text-anchor="middle" fill="#111">IS6</text>
<line x1="77.6" y1="238.5" x2="77.6" y2="240.3" stroke="#7d7d7d" stroke-width="0.6"/>
<text x="77.6" y="247.2" font-size="5.4" class="b" text-anchor="middle" fill="#111">IS7</text>
<line x1="87.9" y1="238.5" x2="87.9" y2="240.3" stroke="#7d7d7d" stroke-width="0.6"/>
<text x="87.9" y="247.2" font-size="5.4" class="b" text-anchor="middle" fill="#111">IS8</text>
<line x1="104.9" y1="238.5" x2="104.9" y2="240.3" stroke="#7d7d7d" stroke-width="0.6"/>
<text x="104.9" y="247.2" font-size="5.4" class="b" text-anchor="middle" fill="#111">PIS</text>
<line x1="114.8" y1="238.5" x2="114.8" y2="240.3" stroke="#7d7d7d" stroke-width="0.6"/>
<text x="114.8" y="247.2" font-size="5.4" class="b" text-anchor="middle" fill="#111">IS4</text>
<line x1="124.7" y1="238.5" x2="124.7" y2="240.3" stroke="#7d7d7d" stroke-width="0.6"/>
<text x="124.7" y="247.2" font-size="5.4" class="b" text-anchor="middle" fill="#111">IS5</text>
<line x1="134.6" y1="238.5" x2="134.6" y2="240.3" stroke="#7d7d7d" stroke-width="0.6"/>
<text x="134.6" y="247.2" font-size="5.4" class="b" text-anchor="middle" fill="#111">IS6</text>
<line x1="144.6" y1="238.5" x2="144.6" y2="240.3" stroke="#7d7d7d" stroke-width="0.6"/>
<text x="144.6" y="247.2" font-size="5.4" class="b" text-anchor="middle" fill="#111">IS7</text>
<line x1="154.9" y1="238.5" x2="154.9" y2="240.3" stroke="#7d7d7d" stroke-width="0.6"/>
<text x="154.9" y="247.2" font-size="5.4" class="b" text-anchor="middle" fill="#111">IS8</text>
<text x="71.6" y="163.6" font-size="6.25" class="b" text-anchor="start" fill="#111">FLAG::RBD::GPI</text>
<text x="12.8" y="220.6" font-size="11.7" fill="#111" stroke="#111" stroke-width="0.3" transform="rotate(-90 12.8 220.6)">OD<tspan font-size="8" dy="3.1">450</tspan></text>
</g>
<g id="panelBR">
<circle cx="206.3" cy="237.5" r="1.3" fill="none" stroke="#111" stroke-width="1.0"/>
<circle cx="207.37" cy="237.5" r="1.3" fill="none" stroke="#111" stroke-width="1.0"/>
<circle cx="208.43" cy="237.5" r="1.3" fill="none" stroke="#111" stroke-width="1.0"/>
<circle cx="209.5" cy="237.5" r="1.3" fill="none" stroke="#111" stroke-width="1.0"/>
<circle cx="210.57" cy="237.5" r="1.3" fill="none" stroke="#111" stroke-width="1.0"/>
<circle cx="211.63" cy="237.5" r="1.3" fill="none" stroke="#111" stroke-width="1.0"/>
<circle cx="212.7" cy="237.5" r="1.3" fill="none" stroke="#111" stroke-width="1.0"/>
<rect x="216.3" y="231.69" width="7.4" height="5.91" fill="#fff" stroke="#555" stroke-width="0.6"/>
<line x1="220" y1="224.46" x2="220" y2="237.6" stroke="#333" stroke-width="0.7"/>
<line x1="218.3" y1="224.46" x2="221.7" y2="224.46" stroke="#333" stroke-width="0.7"/>
<circle cx="219" cy="237.6" r="1.4" fill="none" stroke="#222" stroke-width="0.7"/>
<circle cx="220.9" cy="236.72" r="1.4" fill="none" stroke="#222" stroke-width="0.7"/>
<circle cx="219.7" cy="235.41" r="1.4" fill="none" stroke="#222" stroke-width="0.7"/>
<circle cx="221.2" cy="234.1" r="1.4" fill="none" stroke="#222" stroke-width="0.7"/>
<circle cx="218.7" cy="232.34" r="1.4" fill="none" stroke="#222" stroke-width="0.7"/>
<circle cx="220.4" cy="221.83" r="1.4" fill="none" stroke="#222" stroke-width="0.7"/>
<circle cx="219.3" cy="220.08" r="1.4" fill="none" stroke="#222" stroke-width="0.7"/>
<rect x="226.1" y="233.22" width="7.4" height="4.38" fill="#fff" stroke="#555" stroke-width="0.6"/>
<line x1="229.8" y1="226.65" x2="229.8" y2="237.6" stroke="#333" stroke-width="0.7"/>
<line x1="228.1" y1="226.65" x2="231.5" y2="226.65" stroke="#333" stroke-width="0.7"/>
<circle cx="228.8" cy="237.6" r="1.4" fill="none" stroke="#222" stroke-width="0.7"/>
<circle cx="230.7" cy="236.29" r="1.4" fill="none" stroke="#222" stroke-width="0.7"/>
<circle cx="229.5" cy="235.41" r="1.4" fill="none" stroke="#222" stroke-width="0.7"/>
<circle cx="231" cy="233.22" r="1.4" fill="none" stroke="#222" stroke-width="0.7"/>
<circle cx="228.5" cy="226.21" r="1.4" fill="none" stroke="#222" stroke-width="0.7"/>
<circle cx="230.2" cy="225.34" r="1.4" fill="none" stroke="#222" stroke-width="0.7"/>
<rect x="236.2" y="231.69" width="7.4" height="5.91" fill="#fff" stroke="#555" stroke-width="0.6"/>
<line x1="239.9" y1="223.58" x2="239.9" y2="237.6" stroke="#333" stroke-width="0.7"/>
<line x1="238.2" y1="223.58" x2="241.6" y2="223.58" stroke="#333" stroke-width="0.7"/>
<circle cx="238.9" cy="237.6" r="1.4" fill="none" stroke="#222" stroke-width="0.7"/>
<circle cx="240.8" cy="236.72" r="1.4" fill="none" stroke="#222" stroke-width="0.7"/>
<circle cx="239.6" cy="235.41" r="1.4" fill="none" stroke="#222" stroke-width="0.7"/>
<circle cx="241.1" cy="233.22" r="1.4" fill="none" stroke="#222" stroke-width="0.7"/>
<circle cx="238.6" cy="223.58" r="1.4" fill="none" stroke="#222" stroke-width="0.7"/>
<circle cx="240.3" cy="217.01" r="1.4" fill="none" stroke="#222" stroke-width="0.7"/>
<rect x="246.2" y="233.22" width="7.4" height="4.38" fill="#fff" stroke="#555" stroke-width="0.6"/>
<line x1="249.9" y1="226.65" x2="249.9" y2="237.6" stroke="#333" stroke-width="0.7"/>
<line x1="248.2" y1="226.65" x2="251.6" y2="226.65" stroke="#333" stroke-width="0.7"/>
<circle cx="248.9" cy="237.6" r="1.4" fill="none" stroke="#222" stroke-width="0.7"/>
<circle cx="250.8" cy="236.29" r="1.4" fill="none" stroke="#222" stroke-width="0.7"/>
<circle cx="249.6" cy="234.97" r="1.4" fill="none" stroke="#222" stroke-width="0.7"/>
<circle cx="251.1" cy="233.22" r="1.4" fill="none" stroke="#222" stroke-width="0.7"/>
<circle cx="248.6" cy="226.65" r="1.4" fill="none" stroke="#222" stroke-width="0.7"/>
<circle cx="250.3" cy="225.34" r="1.4" fill="none" stroke="#222" stroke-width="0.7"/>
<rect x="256.3" y="229.72" width="7.4" height="7.88" fill="#fff" stroke="#555" stroke-width="0.6"/>
<line x1="260" y1="219.64" x2="260" y2="237.6" stroke="#333" stroke-width="0.7"/>
<line x1="258.3" y1="219.64" x2="261.7" y2="219.64" stroke="#333" stroke-width="0.7"/>
<circle cx="259" cy="236.72" r="1.4" fill="none" stroke="#222" stroke-width="0.7"/>
<circle cx="260.9" cy="235.41" r="1.4" fill="none" stroke="#222" stroke-width="0.7"/>
<circle cx="259.7" cy="233.22" r="1.4" fill="none" stroke="#222" stroke-width="0.7"/>
<circle cx="261.2" cy="231.03" r="1.4" fill="none" stroke="#222" stroke-width="0.7"/>
<circle cx="258.7" cy="215.7" r="1.4" fill="none" stroke="#222" stroke-width="0.7"/>
<circle cx="260.4" cy="212.63" r="1.4" fill="none" stroke="#222" stroke-width="0.7"/>
<circle cx="273.4" cy="237.5" r="1.3" fill="none" stroke="#111" stroke-width="1.0"/>
<circle cx="274.47" cy="237.5" r="1.3" fill="none" stroke="#111" stroke-width="1.0"/>
<circle cx="275.53" cy="237.5" r="1.3" fill="none" stroke="#111" stroke-width="1.0"/>
<circle cx="276.6" cy="237.5" r="1.3" fill="none" stroke="#111" stroke-width="1.0"/>
<circle cx="277.67" cy="237.5" r="1.3" fill="none" stroke="#111" stroke-width="1.0"/>
<circle cx="278.73" cy="237.5" r="1.3" fill="none" stroke="#111" stroke-width="1.0"/>
<circle cx="279.8" cy="237.5" r="1.3" fill="none" stroke="#111" stroke-width="1.0"/>
<rect x="282.6" y="232.34" width="7.4" height="5.26" fill="#fff" stroke="#555" stroke-width="0.6"/>
<line x1="286.3" y1="225.77" x2="286.3" y2="237.6" stroke="#333" stroke-width="0.7"/>
<line x1="284.6" y1="225.77" x2="288" y2="225.77" stroke="#333" stroke-width="0.7"/>
<circle cx="285.3" cy="236.29" r="1.4" fill="none" stroke="#222" stroke-width="0.7"/>
<circle cx="287.2" cy="234.53" r="1.4" fill="none" stroke="#222" stroke-width="0.7"/>
<circle cx="286" cy="233.22" r="1.4" fill="none" stroke="#222" stroke-width="0.7"/>
<circle cx="287.5" cy="231.47" r="1.4" fill="none" stroke="#222" stroke-width="0.7"/>
<circle cx="285" cy="227.53" r="1.4" fill="none" stroke="#222" stroke-width="0.7"/>
<circle cx="286.7" cy="225.34" r="1.4" fill="none" stroke="#222" stroke-width="0.7"/>
<circle cx="285.6" cy="222.71" r="1.4" fill="none" stroke="#222" stroke-width="0.7"/>
<rect x="292.9" y="232.34" width="7.4" height="5.26" fill="#fff" stroke="#555" stroke-width="0.6"/>
<line x1="296.6" y1="224.9" x2="296.6" y2="237.6" stroke="#333" stroke-width="0.7"/>
<line x1="294.9" y1="224.9" x2="298.3" y2="224.9" stroke="#333" stroke-width="0.7"/>
<circle cx="295.6" cy="236.72" r="1.4" fill="none" stroke="#222" stroke-width="0.7"/>
<circle cx="297.5" cy="235.41" r="1.4" fill="none" stroke="#222" stroke-width="0.7"/>
<circle cx="296.3" cy="234.1" r="1.4" fill="none" stroke="#222" stroke-width="0.7"/>
<circle cx="297.8" cy="233.22" r="1.4" fill="none" stroke="#222" stroke-width="0.7"/>
<circle cx="295.3" cy="222.71" r="1.4" fill="none" stroke="#222" stroke-width="0.7"/>
<circle cx="297" cy="221.39" r="1.4" fill="none" stroke="#222" stroke-width="0.7"/>
<rect x="303.1" y="230.15" width="7.4" height="7.45" fill="#fff" stroke="#555" stroke-width="0.6"/>
<line x1="306.8" y1="221.83" x2="306.8" y2="236.72" stroke="#333" stroke-width="0.7"/>
<line x1="305.1" y1="221.83" x2="308.5" y2="221.83" stroke="#333" stroke-width="0.7"/>
<line x1="305.1" y1="236.72" x2="308.5" y2="236.72" stroke="#333" stroke-width="0.7"/>
<circle cx="305.8" cy="236.29" r="1.4" fill="none" stroke="#222" stroke-width="0.7"/>
<circle cx="307.7" cy="234.1" r="1.4" fill="none" stroke="#222" stroke-width="0.7"/>
<circle cx="306.5" cy="231.03" r="1.4" fill="none" stroke="#222" stroke-width="0.7"/>
<circle cx="308" cy="227.96" r="1.4" fill="none" stroke="#222" stroke-width="0.7"/>
<circle cx="305.5" cy="223.15" r="1.4" fill="none" stroke="#222" stroke-width="0.7"/>
<circle cx="307.2" cy="214.82" r="1.4" fill="none" stroke="#222" stroke-width="0.7"/>
<rect x="313" y="229.94" width="7.4" height="7.66" fill="#fff" stroke="#555" stroke-width="0.6"/>
<line x1="316.7" y1="220.08" x2="316.7" y2="237.6" stroke="#333" stroke-width="0.7"/>
<line x1="315" y1="220.08" x2="318.4" y2="220.08" stroke="#333" stroke-width="0.7"/>
<circle cx="315.7" cy="235.41" r="1.4" fill="none" stroke="#222" stroke-width="0.7"/>
<circle cx="317.6" cy="233.22" r="1.4" fill="none" stroke="#222" stroke-width="0.7"/>
<circle cx="316.4" cy="231.03" r="1.4" fill="none" stroke="#222" stroke-width="0.7"/>
<circle cx="317.9" cy="224.46" r="1.4" fill="none" stroke="#222" stroke-width="0.7"/>
<circle cx="315.4" cy="220.96" r="1.4" fill="none" stroke="#222" stroke-width="0.7"/>
<circle cx="317.1" cy="210.44" r="1.4" fill="none" stroke="#222" stroke-width="0.7"/>
<rect x="323.1" y="218.98" width="7.4" height="18.61" fill="#fff" stroke="#555" stroke-width="0.6"/>
<line x1="326.8" y1="197.3" x2="326.8" y2="237.6" stroke="#333" stroke-width="0.7"/>
<line x1="325.1" y1="197.3" x2="328.5" y2="197.3" stroke="#333" stroke-width="0.7"/>
<circle cx="325.8" cy="234.1" r="1.4" fill="none" stroke="#222" stroke-width="0.7"/>
<circle cx="327.7" cy="232.34" r="1.4" fill="none" stroke="#222" stroke-width="0.7"/>
<circle cx="326.5" cy="226.65" r="1.4" fill="none" stroke="#222" stroke-width="0.7"/>
<circle cx="328" cy="224.46" r="1.4" fill="none" stroke="#222" stroke-width="0.7"/>
<circle cx="325.5" cy="220.08" r="1.4" fill="none" stroke="#222" stroke-width="0.7"/>
<circle cx="327.2" cy="189.86" r="1.4" fill="none" stroke="#222" stroke-width="0.7"/>
<circle cx="326.1" cy="181.97" r="1.4" fill="none" stroke="#222" stroke-width="0.7"/>
<line x1="203.1" y1="171.6" x2="203.1" y2="237.9" stroke="#7d7d7d" stroke-width="0.8"/>
<line x1="202.8" y1="237.6" x2="334.7" y2="237.6" stroke="#7d7d7d" stroke-width="0.8"/>
<line x1="201.1" y1="237.6" x2="203.1" y2="237.6" stroke="#7d7d7d" stroke-width="0.7"/>
<text x="199.2" y="239.35" font-size="4.9" class="b" text-anchor="end" fill="#111">0.0</text>
<line x1="201.1" y1="215.7" x2="203.1" y2="215.7" stroke="#7d7d7d" stroke-width="0.7"/>
<text x="199.2" y="217.45" font-size="4.9" class="b" text-anchor="end" fill="#111">0.5</text>
<line x1="201.1" y1="193.8" x2="203.1" y2="193.8" stroke="#7d7d7d" stroke-width="0.7"/>
<text x="199.2" y="195.55" font-size="4.9" class="b" text-anchor="end" fill="#111">1.0</text>
<line x1="201.1" y1="171.9" x2="203.1" y2="171.9" stroke="#7d7d7d" stroke-width="0.7"/>
<text x="199.2" y="173.65" font-size="4.9" class="b" text-anchor="end" fill="#111">1.5</text>
<line x1="209.5" y1="237.6" x2="209.5" y2="239.4" stroke="#7d7d7d" stroke-width="0.6"/>
<text x="209.5" y="246.3" font-size="5.4" class="b" text-anchor="middle" fill="#111">PIS</text>
<line x1="220" y1="237.6" x2="220" y2="239.4" stroke="#7d7d7d" stroke-width="0.6"/>
<text x="220" y="246.3" font-size="5.4" class="b" text-anchor="middle" fill="#111">IS4</text>
<line x1="229.8" y1="237.6" x2="229.8" y2="239.4" stroke="#7d7d7d" stroke-width="0.6"/>
<text x="229.8" y="246.3" font-size="5.4" class="b" text-anchor="middle" fill="#111">IS5</text>
<line x1="239.9" y1="237.6" x2="239.9" y2="239.4" stroke="#7d7d7d" stroke-width="0.6"/>
<text x="239.9" y="246.3" font-size="5.4" class="b" text-anchor="middle" fill="#111">IS6</text>
<line x1="249.9" y1="237.6" x2="249.9" y2="239.4" stroke="#7d7d7d" stroke-width="0.6"/>
<text x="249.9" y="246.3" font-size="5.4" class="b" text-anchor="middle" fill="#111">IS7</text>
<line x1="260" y1="237.6" x2="260" y2="239.4" stroke="#7d7d7d" stroke-width="0.6"/>
<text x="260" y="246.3" font-size="5.4" class="b" text-anchor="middle" fill="#111">IS8</text>
<line x1="276.6" y1="237.6" x2="276.6" y2="239.4" stroke="#7d7d7d" stroke-width="0.6"/>
<text x="276.6" y="246.3" font-size="5.4" class="b" text-anchor="middle" fill="#111">PIS</text>
<line x1="286.3" y1="237.6" x2="286.3" y2="239.4" stroke="#7d7d7d" stroke-width="0.6"/>
<text x="286.3" y="246.3" font-size="5.4" class="b" text-anchor="middle" fill="#111">IS4</text>
<line x1="296.6" y1="237.6" x2="296.6" y2="239.4" stroke="#7d7d7d" stroke-width="0.6"/>
<text x="296.6" y="246.3" font-size="5.4" class="b" text-anchor="middle" fill="#111">IS5</text>
<line x1="306.8" y1="237.6" x2="306.8" y2="239.4" stroke="#7d7d7d" stroke-width="0.6"/>
<text x="306.8" y="246.3" font-size="5.4" class="b" text-anchor="middle" fill="#111">IS6</text>
<line x1="316.7" y1="237.6" x2="316.7" y2="239.4" stroke="#7d7d7d" stroke-width="0.6"/>
<text x="316.7" y="246.3" font-size="5.4" class="b" text-anchor="middle" fill="#111">IS7</text>
<line x1="326.8" y1="237.6" x2="326.8" y2="239.4" stroke="#7d7d7d" stroke-width="0.6"/>
<text x="326.8" y="246.3" font-size="5.4" class="b" text-anchor="middle" fill="#111">IS8</text>
<text x="202.5" y="162.7" font-size="6.5" class="b" text-anchor="start" fill="#111">FLAG::RBD::GPI + IL-12::GPI VNP</text>
<text x="185.2" y="220.6" font-size="11.7" fill="#111" stroke="#111" stroke-width="0.3" transform="rotate(-90 185.2 220.6)">OD<tspan font-size="8" dy="3.1">450</tspan></text>
</g>
<line x1="32.3" y1="255.8" x2="91.2" y2="255.8" stroke="#6e6e6e" stroke-width="1.3"/>
<text x="58.7" y="265.3" font-size="8.1" class="b" text-anchor="start" fill="#111">IgG2a</text>
<line x1="100.5" y1="255.8" x2="158.7" y2="255.8" stroke="#6e6e6e" stroke-width="1.3"/>
<text x="123.9" y="263.7" font-size="7.15" class="b" text-anchor="start" fill="#111">IgG1</text>
<line x1="207.3" y1="255.1" x2="262.6" y2="255.1" stroke="#6e6e6e" stroke-width="1.3"/>
<text x="232.7" y="264.1" font-size="8.1" class="b" text-anchor="start" fill="#111">IgG2a</text>
<line x1="275.2" y1="255.2" x2="328.6" y2="255.2" stroke="#6e6e6e" stroke-width="1.3"/>
<text x="296.6" y="263.1" font-size="7.2" class="b" text-anchor="start" fill="#111">IgG1</text>
<g id="C1">
<line x1="55.2" y1="289.22" x2="73.9" y2="287.23" stroke="#222" stroke-width="0.6"/>
<line x1="55.2" y1="293.85" x2="73.9" y2="290.54" stroke="#222" stroke-width="0.6"/>
<line x1="55.2" y1="299.15" x2="73.9" y2="299.15" stroke="#222" stroke-width="0.6"/>
<line x1="55.2" y1="299.15" x2="73.9" y2="287.23" stroke="#222" stroke-width="0.6"/>
<line x1="55.2" y1="311.06" x2="73.9" y2="302.46" stroke="#222" stroke-width="0.6"/>
<line x1="55.2" y1="320.33" x2="73.9" y2="312.39" stroke="#222" stroke-width="0.6"/>
<line x1="55.2" y1="318.34" x2="73.9" y2="317.68" stroke="#222" stroke-width="0.6"/>
<line x1="55.2" y1="334.23" x2="73.9" y2="332.91" stroke="#222" stroke-width="0.6"/>
<line x1="42.3" y1="277" x2="42.3" y2="343.8" stroke="#7d7d7d" stroke-width="0.9"/>
<line x1="42" y1="343.5" x2="87" y2="343.5" stroke="#7d7d7d" stroke-width="0.9"/>
<circle cx="55.2" cy="293.85" r="1.6" fill="#fff" stroke="#2a2a2a" stroke-width="0.55"/>
<circle cx="73.9" cy="290.54" r="1.6" fill="#fff" stroke="#2a2a2a" stroke-width="0.55"/>
<path d="M53.7 319.07L56.7 319.07L55.2 321.8Z" fill="#fff" stroke="#2a2a2a" stroke-width="0.5"/>
<path d="M72.4 311.13L75.4 311.13L73.9 313.86Z" fill="#fff" stroke="#2a2a2a" stroke-width="0.5"/>
<rect x="53.6" y="316.74" width="3.2" height="3.2" fill="#fff" stroke="#2a2a2a" stroke-width="0.55"/>
<rect x="72.3" y="316.08" width="3.2" height="3.2" fill="#fff" stroke="#2a2a2a" stroke-width="0.55"/>
<path d="M53.9 290.3L56.5 290.3L55.2 287.96Z" fill="#111" stroke="#111" stroke-width="0.5"/>
<path d="M72.6 288.31L75.2 288.31L73.9 285.97Z" fill="#111" stroke="#111" stroke-width="0.5"/>
<rect x="53.6" y="297.55" width="3.2" height="3.2" fill="#111" stroke="#111" stroke-width="0.55"/>
<rect x="72.3" y="297.55" width="3.2" height="3.2" fill="#111" stroke="#111" stroke-width="0.55"/>
<rect x="53.6" y="297.55" width="3.2" height="3.2" fill="#111" stroke="#111" stroke-width="0.55"/>
<path d="M72.6 288.31L75.2 288.31L73.9 285.97Z" fill="#111" stroke="#111" stroke-width="0.5"/>
<circle cx="55.2" cy="311.06" r="1.6" fill="#111" stroke="#111" stroke-width="0.55"/>
<circle cx="73.9" cy="302.46" r="1.6" fill="#111" stroke="#111" stroke-width="0.55"/>
<path d="M53.9 333.15L56.5 333.15L55.2 335.49Z" fill="#111" stroke="#111" stroke-width="0.5"/>
<path d="M72.6 331.83L75.2 331.83L73.9 334.17Z" fill="#111" stroke="#111" stroke-width="0.5"/>
<line x1="40.3" y1="343.5" x2="42.3" y2="343.5" stroke="#7d7d7d" stroke-width="0.7"/>
<text x="39" y="345.3" font-size="4.95" class="b" text-anchor="end" fill="#111">0.0</text>
<line x1="40.3" y1="330.26" x2="42.3" y2="330.26" stroke="#7d7d7d" stroke-width="0.7"/>
<text x="39" y="332.06" font-size="4.95" class="b" text-anchor="end" fill="#111">0.2</text>
<line x1="40.3" y1="317.02" x2="42.3" y2="317.02" stroke="#7d7d7d" stroke-width="0.7"/>
<text x="39" y="318.82" font-size="4.95" class="b" text-anchor="end" fill="#111">0.4</text>
<line x1="40.3" y1="303.78" x2="42.3" y2="303.78" stroke="#7d7d7d" stroke-width="0.7"/>
<text x="39" y="305.58" font-size="4.95" class="b" text-anchor="end" fill="#111">0.6</text>
<line x1="40.3" y1="290.54" x2="42.3" y2="290.54" stroke="#7d7d7d" stroke-width="0.7"/>
<text x="39" y="292.34" font-size="4.95" class="b" text-anchor="end" fill="#111">0.8</text>
<line x1="40.3" y1="277.3" x2="42.3" y2="277.3" stroke="#7d7d7d" stroke-width="0.7"/>
<text x="39" y="279.1" font-size="4.95" class="b" text-anchor="end" fill="#111">1.0</text>
<line x1="55.2" y1="343.5" x2="55.2" y2="345.7" stroke="#7d7d7d" stroke-width="0.9"/>
<line x1="73.9" y1="343.5" x2="73.9" y2="345.7" stroke="#7d7d7d" stroke-width="0.9"/>
<line x1="53.6" y1="282.5" x2="75.1" y2="282.5" stroke="#111" stroke-width="1.35"/>
<text x="64.65" y="283.1" font-size="8.4" class="b" text-anchor="middle" fill="#111" letter-spacing="0.3">*</text>
<text x="27.3" y="311.2" font-size="6.35" class="b" fill="#111" text-anchor="middle" transform="rotate(-90 27.3 311.2)">IgG2a [OD<tspan font-size="4" dy="1.2">405</tspan><tspan dy="-1.2">]</tspan></text>
<text x="56.1" y="350.8" font-size="5.55" class="b" text-anchor="end" fill="#111" transform="rotate(-45 56.1 350.8)">IS6 wuhan</text>
<text x="74.8" y="350.8" font-size="5.55" class="b" text-anchor="end" fill="#111" transform="rotate(-45 74.8 350.8)">IS 7 wuhan</text>
</g>
<g id="C2">
<line x1="117.3" y1="312.53" x2="135.6" y2="296.21" stroke="#222" stroke-width="0.6"/>
<line x1="117.3" y1="313.41" x2="135.6" y2="297.09" stroke="#222" stroke-width="0.6"/>
<line x1="117.3" y1="314.73" x2="135.6" y2="309.22" stroke="#222" stroke-width="0.6"/>
<line x1="117.3" y1="312.97" x2="135.6" y2="296.21" stroke="#222" stroke-width="0.6"/>
<line x1="117.3" y1="316.06" x2="135.6" y2="301.5" stroke="#222" stroke-width="0.6"/>
<line x1="117.3" y1="324" x2="135.6" y2="320.91" stroke="#222" stroke-width="0.6"/>
<line x1="117.3" y1="330.17" x2="135.6" y2="327.08" stroke="#222" stroke-width="0.6"/>
<line x1="117.3" y1="331.05" x2="135.6" y2="328.85" stroke="#222" stroke-width="0.6"/>
<line x1="117.3" y1="331.49" x2="135.6" y2="330.17" stroke="#222" stroke-width="0.6"/>
<line x1="104.5" y1="276.95" x2="104.5" y2="343.7" stroke="#7d7d7d" stroke-width="0.9"/>
<line x1="104.2" y1="343.4" x2="148.5" y2="343.4" stroke="#7d7d7d" stroke-width="0.9"/>
<circle cx="117.3" cy="312.53" r="1.6" fill="#fff" stroke="#2a2a2a" stroke-width="0.55"/>
<circle cx="135.6" cy="296.21" r="1.6" fill="#fff" stroke="#2a2a2a" stroke-width="0.55"/>
<path d="M115.8 312.15L118.8 312.15L117.3 314.88Z" fill="#fff" stroke="#2a2a2a" stroke-width="0.5"/>
<path d="M134.1 295.83L137.1 295.83L135.6 298.56Z" fill="#fff" stroke="#2a2a2a" stroke-width="0.5"/>
<rect x="115.7" y="313.13" width="3.2" height="3.2" fill="#fff" stroke="#2a2a2a" stroke-width="0.55"/>
<rect x="134" y="307.62" width="3.2" height="3.2" fill="#fff" stroke="#2a2a2a" stroke-width="0.55"/>
<circle cx="135.6" cy="296.21" r="1.6" fill="#fff" stroke="#2a2a2a" stroke-width="0.55"/>
<rect x="115.7" y="311.37" width="3.2" height="3.2" fill="#111" stroke="#111" stroke-width="0.55"/>
<circle cx="117.3" cy="316.06" r="1.6" fill="#111" stroke="#111" stroke-width="0.55"/>
<circle cx="135.6" cy="301.5" r="1.6" fill="#111" stroke="#111" stroke-width="0.55"/>
<path d="M116 325.08L118.6 325.08L117.3 322.74Z" fill="#111" stroke="#111" stroke-width="0.5"/>
<path d="M134.3 321.99L136.9 321.99L135.6 319.65Z" fill="#111" stroke="#111" stroke-width="0.5"/>
<rect x="115.7" y="328.57" width="3.2" height="3.2" fill="#111" stroke="#111" stroke-width="0.55"/>
<rect x="134" y="325.48" width="3.2" height="3.2" fill="#111" stroke="#111" stroke-width="0.55"/>
<path d="M116 329.97L118.6 329.97L117.3 332.31Z" fill="#111" stroke="#111" stroke-width="0.5"/>
<path d="M134.3 327.77L136.9 327.77L135.6 330.11Z" fill="#111" stroke="#111" stroke-width="0.5"/>
<circle cx="117.3" cy="331.49" r="1.6" fill="#111" stroke="#111" stroke-width="0.55"/>
<circle cx="135.6" cy="330.17" r="1.6" fill="#111" stroke="#111" stroke-width="0.55"/>
<line x1="102.5" y1="343.4" x2="104.5" y2="343.4" stroke="#7d7d7d" stroke-width="0.7"/>
<text x="101.2" y="345.2" font-size="4.95" class="b" text-anchor="end" fill="#111">0.0</text>
<line x1="102.5" y1="321.35" x2="104.5" y2="321.35" stroke="#7d7d7d" stroke-width="0.7"/>
<text x="101.2" y="323.15" font-size="4.95" class="b" text-anchor="end" fill="#111">0.5</text>
<line x1="102.5" y1="299.3" x2="104.5" y2="299.3" stroke="#7d7d7d" stroke-width="0.7"/>
<text x="101.2" y="301.1" font-size="4.95" class="b" text-anchor="end" fill="#111">1.0</text>
<line x1="102.5" y1="277.25" x2="104.5" y2="277.25" stroke="#7d7d7d" stroke-width="0.7"/>
<text x="101.2" y="279.05" font-size="4.95" class="b" text-anchor="end" fill="#111">1.5</text>
<line x1="117.3" y1="343.4" x2="117.3" y2="345.6" stroke="#7d7d7d" stroke-width="0.9"/>
<line x1="135.6" y1="343.4" x2="135.6" y2="345.6" stroke="#7d7d7d" stroke-width="0.9"/>
<line x1="115.1" y1="291.3" x2="136.6" y2="291.3" stroke="#111" stroke-width="1.35"/>
<text x="126.15" y="291.9" font-size="8.4" class="b" text-anchor="middle" fill="#111" letter-spacing="0.3">**</text>
<text x="90.3" y="311.1" font-size="6.35" class="b" fill="#111" text-anchor="middle" transform="rotate(-90 90.3 311.1)">IgG1 [OD<tspan font-size="4" dy="1.2">405</tspan><tspan dy="-1.2">]</tspan></text>
<text x="118.2" y="350.7" font-size="5.55" class="b" text-anchor="end" fill="#111" transform="rotate(-45 118.2 350.7)">IS6 wuhan</text>
<text x="136.5" y="350.7" font-size="5.55" class="b" text-anchor="end" fill="#111" transform="rotate(-45 136.5 350.7)">IS 7 wuhan</text>
</g>
<g id="C3">
<line x1="190.7" y1="299.58" x2="209.4" y2="297.17" stroke="#222" stroke-width="0.6"/>
<line x1="190.7" y1="314.06" x2="209.4" y2="316.07" stroke="#222" stroke-width="0.6"/>
<line x1="190.7" y1="333.35" x2="209.4" y2="328.53" stroke="#222" stroke-width="0.6"/>
<line x1="190.7" y1="337.37" x2="209.4" y2="334.56" stroke="#222" stroke-width="0.6"/>
<line x1="190.7" y1="340.19" x2="209.4" y2="338.98" stroke="#222" stroke-width="0.6"/>
<line x1="190.7" y1="342.2" x2="209.4" y2="341.39" stroke="#222" stroke-width="0.6"/>
<line x1="190.7" y1="343" x2="209.4" y2="343" stroke="#222" stroke-width="0.6"/>
<line x1="178.3" y1="278.38" x2="178.3" y2="343.3" stroke="#7d7d7d" stroke-width="0.9"/>
<line x1="178" y1="343" x2="220.7" y2="343" stroke="#7d7d7d" stroke-width="0.9"/>
<rect x="189.1" y="297.98" width="3.2" height="3.2" fill="#fff" stroke="#2a2a2a" stroke-width="0.55"/>
<rect x="207.8" y="295.57" width="3.2" height="3.2" fill="#fff" stroke="#2a2a2a" stroke-width="0.55"/>
<circle cx="190.7" cy="337.37" r="1.6" fill="#fff" stroke="#2a2a2a" stroke-width="0.55"/>
<circle cx="209.4" cy="334.56" r="1.6" fill="#fff" stroke="#2a2a2a" stroke-width="0.55"/>
<circle cx="190.7" cy="314.06" r="1.6" fill="#111" stroke="#111" stroke-width="0.55"/>
<circle cx="209.4" cy="316.07" r="1.6" fill="#111" stroke="#111" stroke-width="0.55"/>
<rect x="189.1" y="331.75" width="3.2" height="3.2" fill="#111" stroke="#111" stroke-width="0.55"/>
<rect x="207.8" y="326.93" width="3.2" height="3.2" fill="#111" stroke="#111" stroke-width="0.55"/>
<path d="M189.4 339.11L192 339.11L190.7 341.45Z" fill="#111" stroke="#111" stroke-width="0.5"/>
<path d="M208.1 337.9L210.7 337.9L209.4 340.24Z" fill="#111" stroke="#111" stroke-width="0.5"/>
<path d="M189.4 343.28L192 343.28L190.7 340.94Z" fill="#111" stroke="#111" stroke-width="0.5"/>
<path d="M208.1 342.47L210.7 342.47L209.4 340.13Z" fill="#111" stroke="#111" stroke-width="0.5"/>
<circle cx="190.7" cy="343" r="1.6" fill="#111" stroke="#111" stroke-width="0.55"/>
<circle cx="209.4" cy="343" r="1.6" fill="#111" stroke="#111" stroke-width="0.55"/>
<line x1="176.3" y1="343" x2="178.3" y2="343" stroke="#7d7d7d" stroke-width="0.7"/>
<text x="175" y="344.8" font-size="4.95" class="b" text-anchor="end" fill="#111">0.0</text>
<line x1="176.3" y1="326.92" x2="178.3" y2="326.92" stroke="#7d7d7d" stroke-width="0.7"/>
<text x="175" y="328.72" font-size="4.95" class="b" text-anchor="end" fill="#111">0.2</text>
<line x1="176.3" y1="310.84" x2="178.3" y2="310.84" stroke="#7d7d7d" stroke-width="0.7"/>
<text x="175" y="312.64" font-size="4.95" class="b" text-anchor="end" fill="#111">0.4</text>
<line x1="176.3" y1="294.76" x2="178.3" y2="294.76" stroke="#7d7d7d" stroke-width="0.7"/>
<text x="175" y="296.56" font-size="4.95" class="b" text-anchor="end" fill="#111">0.6</text>
<line x1="176.3" y1="278.68" x2="178.3" y2="278.68" stroke="#7d7d7d" stroke-width="0.7"/>
<text x="175" y="280.48" font-size="4.95" class="b" text-anchor="end" fill="#111">0.8</text>
<line x1="190.7" y1="343" x2="190.7" y2="345.2" stroke="#7d7d7d" stroke-width="0.9"/>
<line x1="209.4" y1="343" x2="209.4" y2="345.2" stroke="#7d7d7d" stroke-width="0.9"/>
<line x1="189" y1="286.7" x2="210.5" y2="286.7" stroke="#555" stroke-width="1.5"/>
<text x="199.75" y="283.7" font-size="5.7" text-anchor="middle" fill="#111" stroke="#111" stroke-width="0.12">ns</text>
<text x="163.5" y="310.7" font-size="6.35" class="b" fill="#111" text-anchor="middle" transform="rotate(-90 163.5 310.7)">IgG2a [OD<tspan font-size="4" dy="1.2">405</tspan><tspan dy="-1.2">]</tspan></text>
<text x="191.6" y="350.3" font-size="5.55" class="b" text-anchor="end" fill="#111" transform="rotate(-45 191.6 350.3)">IS6 wuhan</text>
<text x="210.3" y="350.3" font-size="5.55" class="b" text-anchor="end" fill="#111" transform="rotate(-45 210.3 350.3)">IS 7 wuhan</text>
</g>
<g id="C4">
<line x1="249.4" y1="319.19" x2="268" y2="299.7" stroke="#222" stroke-width="0.6"/>
<line x1="249.4" y1="326.98" x2="268" y2="339.97" stroke="#222" stroke-width="0.6"/>
<line x1="249.4" y1="334.34" x2="268" y2="331.31" stroke="#222" stroke-width="0.6"/>
<line x1="249.4" y1="337.8" x2="268" y2="333.47" stroke="#222" stroke-width="0.6"/>
<line x1="249.4" y1="338.67" x2="268" y2="336.5" stroke="#222" stroke-width="0.6"/>
<line x1="249.4" y1="340.83" x2="268" y2="338.67" stroke="#222" stroke-width="0.6"/>
<line x1="249.4" y1="335.64" x2="268" y2="341.7" stroke="#222" stroke-width="0.6"/>
<line x1="237.1" y1="277.75" x2="237.1" y2="343.3" stroke="#7d7d7d" stroke-width="0.9"/>
<line x1="236.8" y1="343" x2="279.7" y2="343" stroke="#7d7d7d" stroke-width="0.9"/>
<path d="M247.9 325.72L250.9 325.72L249.4 328.45Z" fill="#fff" stroke="#2a2a2a" stroke-width="0.5"/>
<path d="M266.5 338.71L269.5 338.71L268 341.44Z" fill="#fff" stroke="#2a2a2a" stroke-width="0.5"/>
<path d="M266.5 322.61L269.5 322.61L268 319.88Z" fill="#fff" stroke="#2a2a2a" stroke-width="0.5"/>
<rect x="247.8" y="332.74" width="3.2" height="3.2" fill="#fff" stroke="#2a2a2a" stroke-width="0.55"/>
<rect x="266.4" y="329.71" width="3.2" height="3.2" fill="#fff" stroke="#2a2a2a" stroke-width="0.55"/>
<circle cx="249.4" cy="335.64" r="1.6" fill="#fff" stroke="#2a2a2a" stroke-width="0.55"/>
<circle cx="268" cy="341.7" r="1.6" fill="#fff" stroke="#2a2a2a" stroke-width="0.55"/>
<path d="M248.1 318.11L250.7 318.11L249.4 320.44Z" fill="#111" stroke="#111" stroke-width="0.5"/>
<path d="M266.7 298.62L269.3 298.62L268 300.96Z" fill="#111" stroke="#111" stroke-width="0.5"/>
<rect x="247.8" y="336.2" width="3.2" height="3.2" fill="#111" stroke="#111" stroke-width="0.55"/>
<rect x="266.4" y="331.87" width="3.2" height="3.2" fill="#111" stroke="#111" stroke-width="0.55"/>
<circle cx="249.4" cy="338.67" r="1.6" fill="#111" stroke="#111" stroke-width="0.55"/>
<circle cx="268" cy="336.5" r="1.6" fill="#111" stroke="#111" stroke-width="0.55"/>
<path d="M248.1 341.91L250.7 341.91L249.4 339.57Z" fill="#111" stroke="#111" stroke-width="0.5"/>
<path d="M266.7 339.75L269.3 339.75L268 337.41Z" fill="#111" stroke="#111" stroke-width="0.5"/>
<line x1="235.1" y1="343" x2="237.1" y2="343" stroke="#7d7d7d" stroke-width="0.7"/>
<text x="233.8" y="344.8" font-size="4.95" class="b" text-anchor="end" fill="#111">0.0</text>
<line x1="235.1" y1="321.35" x2="237.1" y2="321.35" stroke="#7d7d7d" stroke-width="0.7"/>
<text x="233.8" y="323.15" font-size="4.95" class="b" text-anchor="end" fill="#111">0.5</text>
<line x1="235.1" y1="299.7" x2="237.1" y2="299.7" stroke="#7d7d7d" stroke-width="0.7"/>
<text x="233.8" y="301.5" font-size="4.95" class="b" text-anchor="end" fill="#111">1.0</text>
<line x1="235.1" y1="278.05" x2="237.1" y2="278.05" stroke="#7d7d7d" stroke-width="0.7"/>
<text x="233.8" y="279.85" font-size="4.95" class="b" text-anchor="end" fill="#111">1.5</text>
<line x1="249.4" y1="343" x2="249.4" y2="345.2" stroke="#7d7d7d" stroke-width="0.9"/>
<line x1="268" y1="343" x2="268" y2="345.2" stroke="#7d7d7d" stroke-width="0.9"/>
<line x1="248.6" y1="289.7" x2="269" y2="289.7" stroke="#151515" stroke-width="1.5"/>
<text x="258.8" y="286.8" font-size="5.7" text-anchor="middle" fill="#111" stroke="#111" stroke-width="0.12">ns</text>
<text x="222.3" y="310.7" font-size="6.35" class="b" fill="#111" text-anchor="middle" transform="rotate(-90 222.3 310.7)">IgG1 [OD<tspan font-size="4" dy="1.2">405</tspan><tspan dy="-1.2">]</tspan></text>
<text x="250.3" y="350.3" font-size="5.55" class="b" text-anchor="end" fill="#111" transform="rotate(-45 250.3 350.3)">IS6 wuhan</text>
<text x="268.9" y="350.3" font-size="5.55" class="b" text-anchor="end" fill="#111" transform="rotate(-45 268.9 350.3)">IS 7 wuhan</text>
</g>
<g id="D1">
<line x1="327.4" y1="322.72" x2="346.4" y2="292.13" stroke="#222" stroke-width="0.6"/>
<line x1="327.4" y1="310.32" x2="346.4" y2="308.67" stroke="#222" stroke-width="0.6"/>
<line x1="327.4" y1="327.69" x2="346.4" y2="331" stroke="#222" stroke-width="0.6"/>
<line x1="327.4" y1="325.21" x2="346.4" y2="326.03" stroke="#222" stroke-width="0.6"/>
<line x1="327.4" y1="334.3" x2="346.4" y2="333.48" stroke="#222" stroke-width="0.6"/>
<line x1="327.4" y1="333.06" x2="346.4" y2="332.24" stroke="#222" stroke-width="0.6"/>
<line x1="327.4" y1="335.96" x2="346.4" y2="340.92" stroke="#222" stroke-width="0.6"/>
<line x1="314.4" y1="276.94" x2="314.4" y2="343.7" stroke="#7d7d7d" stroke-width="0.9"/>
<line x1="314.1" y1="343.4" x2="357.8" y2="343.4" stroke="#7d7d7d" stroke-width="0.9"/>
<circle cx="327.4" cy="310.32" r="1.6" fill="#fff" stroke="#2a2a2a" stroke-width="0.55"/>
<circle cx="346.4" cy="308.67" r="1.6" fill="#fff" stroke="#2a2a2a" stroke-width="0.55"/>
<rect x="325.8" y="326.09" width="3.2" height="3.2" fill="#fff" stroke="#2a2a2a" stroke-width="0.55"/>
<path d="M344.9 329.74L347.9 329.74L346.4 332.47Z" fill="#fff" stroke="#2a2a2a" stroke-width="0.5"/>
<path d="M326.1 323.8L328.7 323.8L327.4 321.46Z" fill="#111" stroke="#111" stroke-width="0.5"/>
<path d="M345.1 293.21L347.7 293.21L346.4 290.87Z" fill="#111" stroke="#111" stroke-width="0.5"/>
<rect x="325.8" y="323.61" width="3.2" height="3.2" fill="#111" stroke="#111" stroke-width="0.55"/>
<rect x="344.8" y="324.43" width="3.2" height="3.2" fill="#111" stroke="#111" stroke-width="0.55"/>
<circle cx="327.4" cy="334.3" r="1.6" fill="#111" stroke="#111" stroke-width="0.55"/>
<circle cx="346.4" cy="333.48" r="1.6" fill="#111" stroke="#111" stroke-width="0.55"/>
<circle cx="327.4" cy="333.06" r="1.6" fill="#111" stroke="#111" stroke-width="0.55"/>
<circle cx="346.4" cy="332.24" r="1.6" fill="#111" stroke="#111" stroke-width="0.55"/>
<path d="M326.1 334.88L328.7 334.88L327.4 337.22Z" fill="#111" stroke="#111" stroke-width="0.5"/>
<path d="M345.1 339.84L347.7 339.84L346.4 342.18Z" fill="#111" stroke="#111" stroke-width="0.5"/>
<line x1="312.4" y1="343.4" x2="314.4" y2="343.4" stroke="#7d7d7d" stroke-width="0.7"/>
<text x="311.1" y="345.2" font-size="4.95" class="b" text-anchor="end" fill="#111">0.0</text>
<line x1="312.4" y1="326.86" x2="314.4" y2="326.86" stroke="#7d7d7d" stroke-width="0.7"/>
<text x="311.1" y="328.66" font-size="4.95" class="b" text-anchor="end" fill="#111">0.2</text>
<line x1="312.4" y1="310.32" x2="314.4" y2="310.32" stroke="#7d7d7d" stroke-width="0.7"/>
<text x="311.1" y="312.12" font-size="4.95" class="b" text-anchor="end" fill="#111">0.4</text>
<line x1="312.4" y1="293.78" x2="314.4" y2="293.78" stroke="#7d7d7d" stroke-width="0.7"/>
<text x="311.1" y="295.58" font-size="4.95" class="b" text-anchor="end" fill="#111">0.6</text>
<line x1="312.4" y1="277.24" x2="314.4" y2="277.24" stroke="#7d7d7d" stroke-width="0.7"/>
<text x="311.1" y="279.04" font-size="4.95" class="b" text-anchor="end" fill="#111">0.8</text>
<line x1="327.4" y1="343.4" x2="327.4" y2="345.6" stroke="#7d7d7d" stroke-width="0.9"/>
<line x1="346.4" y1="343.4" x2="346.4" y2="345.6" stroke="#7d7d7d" stroke-width="0.9"/>
<line x1="326.4" y1="284.4" x2="347" y2="284.4" stroke="#151515" stroke-width="1.5"/>
<text x="336.7" y="281.7" font-size="5.7" text-anchor="middle" fill="#111" stroke="#111" stroke-width="0.12">ns</text>
<text x="300.6" y="311.1" font-size="6.35" class="b" fill="#111" text-anchor="middle" transform="rotate(-90 300.6 311.1)">IgG2a [OD<tspan font-size="4" dy="1.2">405</tspan><tspan dy="-1.2">]</tspan></text>
<text x="328.3" y="350.7" font-size="5.55" class="b" text-anchor="end" fill="#111" transform="rotate(-45 328.3 350.7)">IS 6 omicron</text>
<text x="347.3" y="350.7" font-size="5.55" class="b" text-anchor="end" fill="#111" transform="rotate(-45 347.3 350.7)">IS 7 omicron</text>
</g>
<g id="D2">
<line x1="389.3" y1="303.7" x2="407.8" y2="288.82" stroke="#222" stroke-width="0.6"/>
<line x1="389.3" y1="310.32" x2="407.8" y2="289.64" stroke="#222" stroke-width="0.6"/>
<line x1="389.3" y1="307.01" x2="407.8" y2="302.05" stroke="#222" stroke-width="0.6"/>
<line x1="389.3" y1="325.21" x2="407.8" y2="307.84" stroke="#222" stroke-width="0.6"/>
<line x1="389.3" y1="322.72" x2="407.8" y2="324.38" stroke="#222" stroke-width="0.6"/>
<line x1="389.3" y1="325.21" x2="407.8" y2="324.38" stroke="#222" stroke-width="0.6"/>
<line x1="389.3" y1="324.38" x2="407.8" y2="326.86" stroke="#222" stroke-width="0.6"/>
<line x1="389.3" y1="331" x2="407.8" y2="326.86" stroke="#222" stroke-width="0.6"/>
<line x1="389.3" y1="321.07" x2="407.8" y2="335.96" stroke="#222" stroke-width="0.6"/>
<line x1="376.3" y1="276.94" x2="376.3" y2="343.7" stroke="#7d7d7d" stroke-width="0.9"/>
<line x1="376" y1="343.4" x2="420.5" y2="343.4" stroke="#7d7d7d" stroke-width="0.9"/>
<rect x="387.7" y="302.1" width="3.2" height="3.2" fill="#fff" stroke="#2a2a2a" stroke-width="0.55"/>
<rect x="406.2" y="287.22" width="3.2" height="3.2" fill="#fff" stroke="#2a2a2a" stroke-width="0.55"/>
<path d="M387.8 309.06L390.8 309.06L389.3 311.79Z" fill="#fff" stroke="#2a2a2a" stroke-width="0.5"/>
<path d="M406.3 288.38L409.3 288.38L407.8 291.12Z" fill="#fff" stroke="#2a2a2a" stroke-width="0.5"/>
<rect x="387.7" y="322.78" width="3.2" height="3.2" fill="#fff" stroke="#2a2a2a" stroke-width="0.55"/>
<rect x="406.2" y="325.26" width="3.2" height="3.2" fill="#fff" stroke="#2a2a2a" stroke-width="0.55"/>
<path d="M387.8 332.25L390.8 332.25L389.3 329.52Z" fill="#fff" stroke="#2a2a2a" stroke-width="0.5"/>
<path d="M406.3 328.12L409.3 328.12L407.8 325.39Z" fill="#fff" stroke="#2a2a2a" stroke-width="0.5"/>
<circle cx="389.3" cy="307.01" r="1.6" fill="#111" stroke="#111" stroke-width="0.55"/>
<rect x="406.2" y="300.45" width="3.2" height="3.2" fill="#111" stroke="#111" stroke-width="0.55"/>
<path d="M388 324.13L390.6 324.13L389.3 326.47Z" fill="#111" stroke="#111" stroke-width="0.5"/>
<path d="M406.5 306.76L409.1 306.76L407.8 309.1Z" fill="#111" stroke="#111" stroke-width="0.5"/>
<rect x="387.7" y="321.12" width="3.2" height="3.2" fill="#111" stroke="#111" stroke-width="0.55"/>
<rect x="406.2" y="322.78" width="3.2" height="3.2" fill="#111" stroke="#111" stroke-width="0.55"/>
<circle cx="389.3" cy="325.21" r="1.6" fill="#111" stroke="#111" stroke-width="0.55"/>
<circle cx="407.8" cy="324.38" r="1.6" fill="#111" stroke="#111" stroke-width="0.55"/>
<path d="M388 322.15L390.6 322.15L389.3 319.81Z" fill="#111" stroke="#111" stroke-width="0.5"/>
<path d="M406.5 337.04L409.1 337.04L407.8 334.7Z" fill="#111" stroke="#111" stroke-width="0.5"/>
<line x1="374.3" y1="343.4" x2="376.3" y2="343.4" stroke="#7d7d7d" stroke-width="0.7"/>
<text x="373" y="345.2" font-size="4.95" class="b" text-anchor="end" fill="#111">0.0</text>
<line x1="374.3" y1="326.86" x2="376.3" y2="326.86" stroke="#7d7d7d" stroke-width="0.7"/>
<text x="373" y="328.66" font-size="4.95" class="b" text-anchor="end" fill="#111">0.2</text>
<line x1="374.3" y1="310.32" x2="376.3" y2="310.32" stroke="#7d7d7d" stroke-width="0.7"/>
<text x="373" y="312.12" font-size="4.95" class="b" text-anchor="end" fill="#111">0.4</text>
<line x1="374.3" y1="293.78" x2="376.3" y2="293.78" stroke="#7d7d7d" stroke-width="0.7"/>
<text x="373" y="295.58" font-size="4.95" class="b" text-anchor="end" fill="#111">0.6</text>
<line x1="374.3" y1="277.24" x2="376.3" y2="277.24" stroke="#7d7d7d" stroke-width="0.7"/>
<text x="373" y="279.04" font-size="4.95" class="b" text-anchor="end" fill="#111">0.8</text>
<line x1="389.3" y1="343.4" x2="389.3" y2="345.6" stroke="#7d7d7d" stroke-width="0.9"/>
<line x1="407.8" y1="343.4" x2="407.8" y2="345.6" stroke="#7d7d7d" stroke-width="0.9"/>
<line x1="388.3" y1="284.4" x2="409.3" y2="284.4" stroke="#151515" stroke-width="1.5"/>
<text x="398.8" y="281.7" font-size="5.7" text-anchor="middle" fill="#111" stroke="#111" stroke-width="0.12">ns</text>
<text x="361.8" y="311.1" font-size="6.35" class="b" fill="#111" text-anchor="middle" transform="rotate(-90 361.8 311.1)">IgG1 [OD<tspan font-size="4" dy="1.2">405</tspan><tspan dy="-1.2">]</tspan></text>
<text x="390.2" y="350.7" font-size="5.55" class="b" text-anchor="end" fill="#111" transform="rotate(-45 390.2 350.7)">IS 6 omicron</text>
<text x="408.7" y="350.7" font-size="5.55" class="b" text-anchor="end" fill="#111" transform="rotate(-45 408.7 350.7)">IS 7 omicron</text>
</g>
<g id="D3">
<line x1="449.3" y1="311.43" x2="467.8" y2="282.1" stroke="#222" stroke-width="0.6"/>
<line x1="449.3" y1="322.45" x2="467.8" y2="305.91" stroke="#222" stroke-width="0.6"/>
<line x1="449.3" y1="340.75" x2="467.8" y2="335.24" stroke="#222" stroke-width="0.6"/>
<line x1="449.3" y1="341.19" x2="467.8" y2="340.09" stroke="#222" stroke-width="0.6"/>
<line x1="449.3" y1="340.09" x2="467.8" y2="340.75" stroke="#222" stroke-width="0.6"/>
<line x1="449.3" y1="342.52" x2="467.8" y2="342.52" stroke="#222" stroke-width="0.6"/>
<line x1="436.4" y1="276.95" x2="436.4" y2="343.7" stroke="#7d7d7d" stroke-width="0.9"/>
<line x1="436.1" y1="343.4" x2="479.5" y2="343.4" stroke="#7d7d7d" stroke-width="0.9"/>
<rect x="447.7" y="320.85" width="3.2" height="3.2" fill="#fff" stroke="#2a2a2a" stroke-width="0.55"/>
<rect x="466.2" y="304.31" width="3.2" height="3.2" fill="#fff" stroke="#2a2a2a" stroke-width="0.55"/>
<circle cx="449.3" cy="311.43" r="1.6" fill="#111" stroke="#111" stroke-width="0.55"/>
<circle cx="467.8" cy="282.1" r="1.6" fill="#111" stroke="#111" stroke-width="0.55"/>
<path d="M448 339.67L450.6 339.67L449.3 342.01Z" fill="#111" stroke="#111" stroke-width="0.5"/>
<path d="M466.5 334.16L469.1 334.16L467.8 336.5Z" fill="#111" stroke="#111" stroke-width="0.5"/>
<rect x="447.7" y="339.59" width="3.2" height="3.2" fill="#111" stroke="#111" stroke-width="0.55"/>
<rect x="466.2" y="338.49" width="3.2" height="3.2" fill="#111" stroke="#111" stroke-width="0.55"/>
<circle cx="449.3" cy="340.09" r="1.6" fill="#111" stroke="#111" stroke-width="0.55"/>
<circle cx="467.8" cy="340.75" r="1.6" fill="#111" stroke="#111" stroke-width="0.55"/>
<path d="M448 343.6L450.6 343.6L449.3 341.26Z" fill="#111" stroke="#111" stroke-width="0.5"/>
<path d="M466.5 343.6L469.1 343.6L467.8 341.26Z" fill="#111" stroke="#111" stroke-width="0.5"/>
<line x1="434.4" y1="343.4" x2="436.4" y2="343.4" stroke="#7d7d7d" stroke-width="0.7"/>
<text x="433.1" y="345.2" font-size="4.95" class="b" text-anchor="end" fill="#111">0.0</text>
<line x1="434.4" y1="321.35" x2="436.4" y2="321.35" stroke="#7d7d7d" stroke-width="0.7"/>
<text x="433.1" y="323.15" font-size="4.95" class="b" text-anchor="end" fill="#111">0.1</text>
<line x1="434.4" y1="299.3" x2="436.4" y2="299.3" stroke="#7d7d7d" stroke-width="0.7"/>
<text x="433.1" y="301.1" font-size="4.95" class="b" text-anchor="end" fill="#111">0.2</text>
<line x1="434.4" y1="277.25" x2="436.4" y2="277.25" stroke="#7d7d7d" stroke-width="0.7"/>
<text x="433.1" y="279.05" font-size="4.95" class="b" text-anchor="end" fill="#111">0.3</text>
<line x1="449.3" y1="343.4" x2="449.3" y2="345.6" stroke="#7d7d7d" stroke-width="0.9"/>
<line x1="467.8" y1="343.4" x2="467.8" y2="345.6" stroke="#7d7d7d" stroke-width="0.9"/>
<line x1="447.2" y1="277.2" x2="469.3" y2="277.2" stroke="#151515" stroke-width="1.5"/>
<text x="458.25" y="274" font-size="5.7" text-anchor="middle" fill="#111" stroke="#111" stroke-width="0.12">ns</text>
<text x="422" y="311.1" font-size="6.35" class="b" fill="#111" text-anchor="middle" transform="rotate(-90 422 311.1)">IgG2a [OD<tspan font-size="4" dy="1.2">405</tspan><tspan dy="-1.2">]</tspan></text>
<text x="450.2" y="350.7" font-size="5.55" class="b" text-anchor="end" fill="#111" transform="rotate(-45 450.2 350.7)">IS 6 omicron</text>
<text x="468.7" y="350.7" font-size="5.55" class="b" text-anchor="end" fill="#111" transform="rotate(-45 468.7 350.7)">IS 7 omicron</text>
</g>
<g id="D4">
<line x1="513.3" y1="320.47" x2="532.3" y2="297.98" stroke="#222" stroke-width="0.6"/>
<line x1="513.3" y1="328.41" x2="532.3" y2="342.08" stroke="#222" stroke-width="0.6"/>
<line x1="513.3" y1="341.64" x2="532.3" y2="321.79" stroke="#222" stroke-width="0.6"/>
<line x1="513.3" y1="340.75" x2="532.3" y2="338.99" stroke="#222" stroke-width="0.6"/>
<line x1="513.3" y1="342.52" x2="532.3" y2="341.19" stroke="#222" stroke-width="0.6"/>
<line x1="513.3" y1="342.08" x2="532.3" y2="342.52" stroke="#222" stroke-width="0.6"/>
<line x1="513.3" y1="342.96" x2="532.3" y2="342.96" stroke="#222" stroke-width="0.6"/>
<line x1="500.4" y1="276.95" x2="500.4" y2="343.7" stroke="#7d7d7d" stroke-width="0.9"/>
<line x1="500.1" y1="343.4" x2="545.4" y2="343.4" stroke="#7d7d7d" stroke-width="0.9"/>
<path d="M511.8 327.15L514.8 327.15L513.3 329.88Z" fill="#fff" stroke="#2a2a2a" stroke-width="0.5"/>
<path d="M530.8 340.82L533.8 340.82L532.3 343.55Z" fill="#fff" stroke="#2a2a2a" stroke-width="0.5"/>
<path d="M511.8 342.9L514.8 342.9L513.3 340.17Z" fill="#fff" stroke="#2a2a2a" stroke-width="0.5"/>
<path d="M530.8 323.05L533.8 323.05L532.3 320.32Z" fill="#fff" stroke="#2a2a2a" stroke-width="0.5"/>
<circle cx="513.3" cy="340.75" r="1.6" fill="#fff" stroke="#2a2a2a" stroke-width="0.55"/>
<circle cx="532.3" cy="338.99" r="1.6" fill="#fff" stroke="#2a2a2a" stroke-width="0.55"/>
<path d="M512 319.39L514.6 319.39L513.3 321.73Z" fill="#111" stroke="#111" stroke-width="0.5"/>
<path d="M531 296.9L533.6 296.9L532.3 299.24Z" fill="#111" stroke="#111" stroke-width="0.5"/>
<rect x="511.7" y="340.92" width="3.2" height="3.2" fill="#111" stroke="#111" stroke-width="0.55"/>
<rect x="530.7" y="339.59" width="3.2" height="3.2" fill="#111" stroke="#111" stroke-width="0.55"/>
<circle cx="513.3" cy="342.08" r="1.6" fill="#111" stroke="#111" stroke-width="0.55"/>
<circle cx="532.3" cy="342.52" r="1.6" fill="#111" stroke="#111" stroke-width="0.55"/>
<path d="M512 344.04L514.6 344.04L513.3 341.7Z" fill="#111" stroke="#111" stroke-width="0.5"/>
<path d="M531 344.04L533.6 344.04L532.3 341.7Z" fill="#111" stroke="#111" stroke-width="0.5"/>
<line x1="498.4" y1="343.4" x2="500.4" y2="343.4" stroke="#7d7d7d" stroke-width="0.7"/>
<text x="497.1" y="345.2" font-size="4.95" class="b" text-anchor="end" fill="#111">0.0</text>
<line x1="498.4" y1="321.35" x2="500.4" y2="321.35" stroke="#7d7d7d" stroke-width="0.7"/>
<text x="497.1" y="323.15" font-size="4.95" class="b" text-anchor="end" fill="#111">0.5</text>
<line x1="498.4" y1="299.3" x2="500.4" y2="299.3" stroke="#7d7d7d" stroke-width="0.7"/>
<text x="497.1" y="301.1" font-size="4.95" class="b" text-anchor="end" fill="#111">1.0</text>
<line x1="498.4" y1="277.25" x2="500.4" y2="277.25" stroke="#7d7d7d" stroke-width="0.7"/>
<text x="497.1" y="279.05" font-size="4.95" class="b" text-anchor="end" fill="#111">1.5</text>
<line x1="513.3" y1="343.4" x2="513.3" y2="345.6" stroke="#7d7d7d" stroke-width="0.9"/>
<line x1="532.3" y1="343.4" x2="532.3" y2="345.6" stroke="#7d7d7d" stroke-width="0.9"/>
<line x1="514.2" y1="294" x2="532.7" y2="294" stroke="#555" stroke-width="1.5"/>
<text x="523.45" y="291.3" font-size="5.7" text-anchor="middle" fill="#111" stroke="#111" stroke-width="0.12">ns</text>
<text x="484.6" y="311.1" font-size="6.35" class="b" fill="#111" text-anchor="middle" transform="rotate(-90 484.6 311.1)">IgG1 [OD<tspan font-size="4" dy="1.2">405</tspan><tspan dy="-1.2">]</tspan></text>
<text x="514.2" y="350.7" font-size="5.55" class="b" text-anchor="end" fill="#111" transform="rotate(-45 514.2 350.7)">IS 6 omicron</text>
<text x="533.2" y="350.7" font-size="5.55" class="b" text-anchor="end" fill="#111" transform="rotate(-45 533.2 350.7)">IS 7 omicron</text>
</g>
<line x1="34" y1="376.9" x2="152.5" y2="376.9" stroke="#707070" stroke-width="1.2"/>
<line x1="172.4" y1="376.9" x2="289" y2="376.9" stroke="#707070" stroke-width="1.2"/>
<line x1="296.7" y1="376.9" x2="411" y2="376.9" stroke="#707070" stroke-width="1.2"/>
<line x1="425.9" y1="376.9" x2="514.5" y2="376.9" stroke="#707070" stroke-width="1.2"/>
<text x="49.3" y="386.7" font-size="8" text-anchor="start" fill="#222" stroke="#222" stroke-width="0.15">FLAG::RBD::GPI VNP</text>
<text x="198.9" y="386.7" font-size="8" text-anchor="start" fill="#222" stroke="#222" stroke-width="0.15">FLAG::RBD::GPI +</text>
<text x="198.9" y="397.8" font-size="8" text-anchor="start" fill="#222" stroke="#222" stroke-width="0.15">IL-12::GPI VNP</text>
<text x="329.8" y="386.7" font-size="8" text-anchor="start" fill="#222" stroke="#222" stroke-width="0.15">FLAG::RBD::GPI VNP</text>
<text x="435.5" y="386.6" font-size="8" text-anchor="start" fill="#222" stroke="#222" stroke-width="0.15">FLAG::RBD::GPI +</text>
<text x="435.5" y="396.6" font-size="8" text-anchor="start" fill="#222" stroke="#222" stroke-width="0.15">IL-12::GPI VNP</text>
</g>
</svg></body></html>
